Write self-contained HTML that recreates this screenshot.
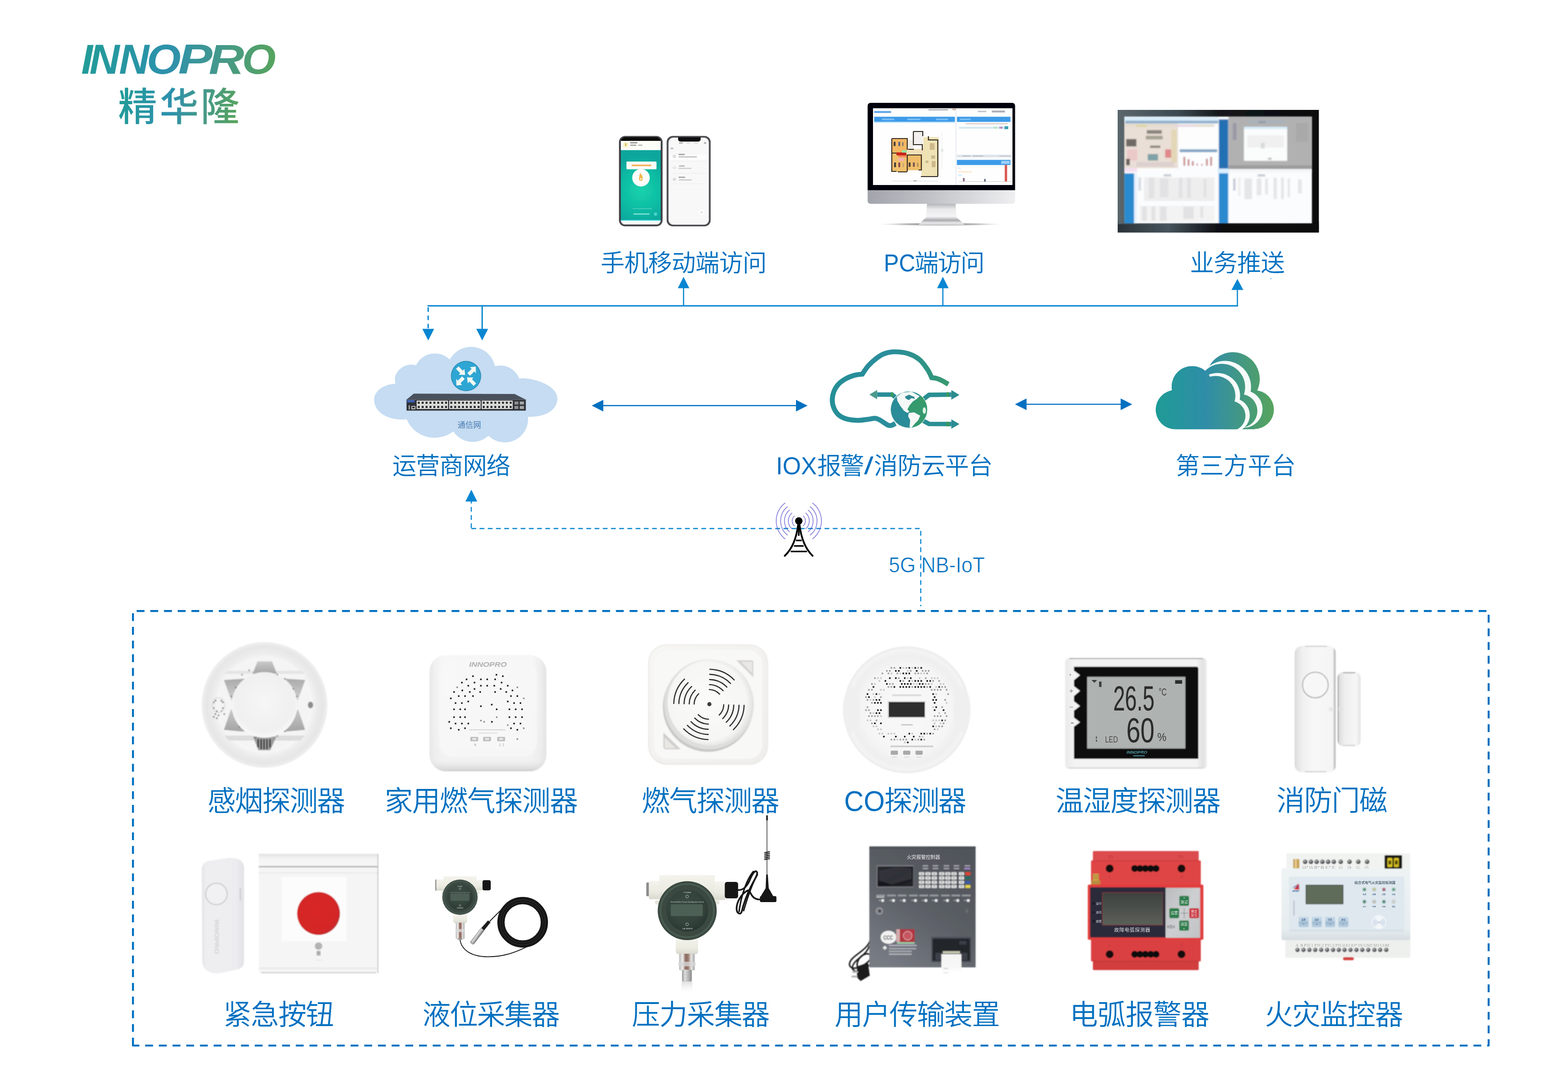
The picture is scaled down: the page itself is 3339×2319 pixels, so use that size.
<!DOCTYPE html>
<html lang="zh-CN">
<head>
<meta charset="utf-8">
<title>INNOPRO 精华隆 - IOX报警/消防云平台</title>
<style>
html,body{margin:0;padding:0;background:#fff;}
body{width:3339px;height:2319px;overflow:hidden;position:relative;}
svg{position:absolute;left:0;top:0;display:block;}
text{font-family:"Liberation Sans","Noto Sans CJK SC",sans-serif;}
.lb{fill:#0070c0;font-weight:350;}
</style>
</head>
<body>
<svg width="3339" height="2319" viewBox="0 0 3339 2319">
<!-- 05_logo.svg -->
<defs>
  <linearGradient id="lg1" gradientUnits="userSpaceOnUse" x1="175" y1="100" x2="586" y2="150">
    <stop offset="0" stop-color="#229c97"/>
    <stop offset="0.45" stop-color="#2d91ad"/>
    <stop offset="0.72" stop-color="#45998a"/>
    <stop offset="1" stop-color="#57a45c"/>
  </linearGradient>
  <linearGradient id="lg2" gradientUnits="userSpaceOnUse" x1="254" y1="200" x2="507" y2="250">
    <stop offset="0" stop-color="#229c97"/>
    <stop offset="0.42" stop-color="#2d91ad"/>
    <stop offset="0.7" stop-color="#45998a"/>
    <stop offset="1" stop-color="#57a45c"/>
  </linearGradient>
</defs>
<g id="logo">
  <text y="156.5" font-size="89" font-weight="700" font-style="italic" fill="url(#lg1)"><tspan x="173 190.5 253.5">INN</tspan><tspan x="312.6" textLength="72.7" lengthAdjust="spacingAndGlyphs">O</tspan><tspan x="379.6" textLength="72.8" lengthAdjust="spacingAndGlyphs">P</tspan><tspan x="444.4" textLength="75.5" lengthAdjust="spacingAndGlyphs">R</tspan><tspan x="515.6" textLength="72" lengthAdjust="spacingAndGlyphs">O</tspan></text>
  <text x="251.5 340 427" y="257" font-size="83" font-weight="500" fill="url(#lg2)">精华隆</text>
</g>

<!-- 10_lines.svg -->
<g id="lines" fill="none" stroke="#0886d1" stroke-width="2.9">
  <path d="M910.4,651.3 H2636.3"/>
  <path d="M911.8,654.4 V700.5" stroke-dasharray="9.6 7.9"/>
  <path d="M1026.8,652 V701"/>
  <path d="M1455.6,651 V612" stroke-width="2.5"/>
  <path d="M2007.8,651 V612" stroke-width="2.5"/>
  <path d="M2635,652 V616" stroke-width="2.5"/>
</g>
<g id="heads" fill="#0886d1">
  <path d="M899.3,700.2 h25.2 l-12.6,24.9z"/>
  <path d="M1014.2,700.2 h25.2 l-12.6,24.9z"/>
  <path d="M1443.3,613.7 h24.6 l-12.3,-24.2z"/>
  <path d="M1995.5,613.7 h24.6 l-12.3,-24.2z"/>
  <path d="M2622.4,617.4 h25.2 l-12.6,-23.5z"/>
</g>
<g id="box" fill="none" stroke="#0070c0" stroke-width="4.2" stroke-linejoin="round">
  <path d="M283.15,2226.5 V1301.2 H3170 V2226.5 Z" stroke-dasharray="16.7 12.46"/>
</g>

<!-- 15_mid.svg -->
<g id="midarrows">
  <g stroke="#0070c0" stroke-width="2.4" fill="none">
    <path d="M1282,863.8 H1698"/>
    <path d="M2184,860.9 H2389"/>
  </g>
  <g fill="#0070c0">
    <path d="M1260.1,863.8 l24.6,-12.4 v24.8z"/>
    <path d="M1719.6,863.8 l-24.6,-12.4 v24.8z"/>
    <path d="M2161.4,860.9 l24.6,-12.4 v24.8z"/>
    <path d="M2411,860.9 l-24.6,-12.4 v24.8z"/>
  </g>
  <path d="M1003.8,1125.5 H1960.7 V1291" fill="none" stroke="#0886d1" stroke-width="2.4" stroke-dasharray="10.1 7.39"/>
  <path d="M1003.6,1124.6 V1066" fill="none" stroke="#0886d1" stroke-width="2.4" stroke-dasharray="10.1 7.39"/>
  <circle cx="2706.4" cy="593.4" r="1" fill="#0886d1"/>
  <path d="M1003.7,1042.7 l12.6,25.2 h-25.2z" fill="#0886d1"/>
</g>
<g id="tower">
  <path d="M1710.1,1098.5 A14.1,14.1 0 0 1 1710.1,1120.1 M1692.0,1098.5 A14.1,14.1 0 0 0 1692.0,1120.1 M1715.4,1092.2 A22.3,22.3 0 0 1 1715.4,1126.4 M1686.7,1092.2 A22.3,22.3 0 0 0 1686.7,1126.4 M1720.7,1085.9 A30.5,30.5 0 0 1 1720.7,1132.7 M1681.4,1085.9 A30.5,30.5 0 0 0 1681.4,1132.7 M1724.9,1078.8 A38.8,38.8 0 0 1 1724.9,1139.9 M1677.2,1078.8 A38.8,38.8 0 0 0 1677.2,1139.9 M1730.0,1070.8 A48.2,48.2 0 0 1 1730.0,1147.8 M1672.1,1070.8 A48.2,48.2 0 0 0 1672.1,1147.8" fill="none" stroke="#5b4fd0" stroke-width="1.5" opacity="0.8"/>
  <circle cx="1701.0" cy="1109.3" r="7.9" fill="#000"/>
  <path d="M1701.0,1109.3 V1141.0" stroke="#000" stroke-width="3.4" fill="none"/>
  <path d="M1699.6,1117.5 Q1694.0,1162.2 1671.4,1183.3 M1702.5,1117.5 Q1708.1,1162.2 1730.2,1183.3" stroke="#000" stroke-width="3.8" fill="none" stroke-linecap="square"/>
  <path d="M1694.9,1150.9 H1707.2 M1690.7,1162.7 H1711.4 M1683.7,1174.4 H1718.4" stroke="#000" stroke-width="3.3" fill="none"/>
</g>

<!-- 20_text.svg -->
<g id="labels" class="lb">
  <text x="1279.1" y="578.1" font-size="51.3" letter-spacing="-0.88">手机移动端访问</text>
  <text y="578.1" font-size="51.3"><tspan x="1882.1" letter-spacing="0" textLength="66.9" lengthAdjust="spacingAndGlyphs">PC</tspan><tspan x="1947.5" letter-spacing="-2.31">端访问</tspan></text>
  <text x="2533.9" y="577.9" font-size="51.3" letter-spacing="-1.04">业务推送</text>
  <text x="835.4" y="1009.6" font-size="51.3" letter-spacing="-1.21">运营商网络</text>
  <text y="1009.6" font-size="51.3"><tspan x="1652.6" letter-spacing="0" textLength="86.7" lengthAdjust="spacingAndGlyphs">IOX</tspan><tspan x="1740.2" letter-spacing="-2.31">报警</tspan><tspan x="1839.9" letter-spacing="0" textLength="19.9" lengthAdjust="spacingAndGlyphs">/</tspan><tspan x="1860.8" letter-spacing="-0.81">消防云平台</tspan></text>
  <text x="2503.5" y="1009.6" font-size="51.3" letter-spacing="-0.16">第三方平台</text>
  <text x="442.0" y="1726.8" font-size="60.2" letter-spacing="-1.91">感烟探测器</text>
  <text x="819.0" y="1726.8" font-size="60.2" letter-spacing="-1.58">家用燃气探测器</text>
  <text x="1366.5" y="1727.2" font-size="60.2" letter-spacing="-1.86">燃气探测器</text>
  <text y="1726.8" font-size="60.2"><tspan x="1797.5" letter-spacing="0" textLength="86.7" lengthAdjust="spacingAndGlyphs">CO</tspan><tspan x="1883.1" letter-spacing="-2.71">探测器</tspan></text>
  <text x="2247.7" y="1726.8" font-size="60.2" letter-spacing="-1.83">温湿度探测器</text>
  <text x="2718.3" y="1726.2" font-size="60.2" letter-spacing="-1.44">消防门磁</text>
  <text x="475.5" y="2182.2" font-size="60.2" letter-spacing="-1.58">紧急按钮</text>
  <text x="899.5" y="2182.2" font-size="60.2" letter-spacing="-2.01">液位采集器</text>
  <text x="1345.6" y="2182.2" font-size="60.2" letter-spacing="-1.76">压力采集器</text>
  <text x="1777.2" y="2181.7" font-size="60.2" letter-spacing="-1.75">用户传输装置</text>
  <text x="2277.8" y="2182.2" font-size="60.2" letter-spacing="-0.76">电弧报警器</text>
  <text x="2693.2" y="2182.2" font-size="60.2" letter-spacing="-1.51">火灾监控器</text>
  <text x="1892.6" y="1218.8" font-size="45.5" textLength="204.6" lengthAdjust="spacingAndGlyphs" stroke="#fff" stroke-width="0.7">5G NB-IoT</text>
</g>

<!-- 30_phones.svg -->
<defs>
  <radialGradient id="phg" gradientUnits="userSpaceOnUse" cx="1365" cy="405" r="75">
    <stop offset="0" stop-color="#16d2ac"/>
    <stop offset="0.5" stop-color="#0fbfa4"/>
    <stop offset="1" stop-color="#10a69d"/>
  </radialGradient>
  <filter id="b1" x="-10%" y="-10%" width="120%" height="120%"><feGaussianBlur stdDeviation="0.9"/></filter>
  <filter id="b2" x="-10%" y="-10%" width="120%" height="120%"><feGaussianBlur stdDeviation="1.6"/></filter>
  <filter id="b05" x="-10%" y="-10%" width="120%" height="120%"><feGaussianBlur stdDeviation="0.5"/></filter>
</defs>
<g id="phones" filter="url(#b05)">
  <!-- phone 1 -->
  <rect x="1318" y="289.5" width="93" height="192.5" rx="13" fill="#4b4b50"/>
  <rect x="1321.5" y="292" width="86" height="187" rx="10" fill="#0d0d10"/>
  <path d="M1322,300 h85 v20 h-85z" fill="#fdfdf8"/>
  <rect x="1322" y="319.7" width="85" height="149" fill="url(#phg)"/>
  <path d="M1322,468.2 h85 v2 a9,9 0 0 1 -9,8 h-67 a9,9 0 0 1 -9,-8z" fill="#f4fbfb"/>
  <rect x="1322" y="468" width="85" height="2" fill="#3fd3d6"/>
  <rect x="1334" y="344" width="64" height="16.5" rx="1.5" fill="#fbfbf6"/>
  <rect x="1345" y="350.5" width="42" height="3.4" fill="#f6b25a"/>
  <circle cx="1365" cy="378.5" r="18.7" fill="#fbfdfb"/>
  <path d="M1363,368 c4,5 7,9 5,15 c-1,3 -6,3 -7,0 c-1,-4 1,-8 2,-15z" fill="#f2b64a"/>
  <circle cx="1364.5" cy="381" r="2" fill="#fff6dd"/>
  <rect x="1327" y="303" width="11" height="11" rx="2" fill="#fbf3cf"/>
  <rect x="1331" y="305" width="3" height="6" fill="#d9bd4e"/>
  <rect x="1342" y="302.5" width="15" height="3" fill="#9a9a9a"/>
  <rect x="1342" y="308" width="13" height="2.4" fill="#9e9e9e"/>
  <rect x="1359" y="308" width="9" height="2.4" fill="#b5b5b5"/>
  <rect x="1347" y="443.5" width="41" height="1.6" fill="#4fd0c0"/>
  <rect x="1349" y="454.5" width="34" height="2.6" fill="#7fe3da"/>
  <circle cx="1396" cy="456" r="3.4" fill="#4ad4d0"/>
  <!-- phone 2 -->
  <rect x="1419.6" y="289.5" width="93.7" height="192.5" rx="13" fill="#4b4b50"/>
  <rect x="1423.5" y="293" width="86" height="185.5" rx="10" fill="#f8f8f8"/>
  <path d="M1444,292.5 h48 v4 a5,5 0 0 1 -5,5 h-38 a5,5 0 0 1 -5,-5z" fill="#0c0c0e"/>
  <rect x="1427" y="330" width="78" height="10" fill="#fdfdfd"/>
  <g fill="#b9b9b9">
    <rect x="1446" y="303" width="8" height="3"/>
    <rect x="1462" y="303.5" width="8" height="2" fill="#d6d6d6"/>
    <rect x="1478" y="303.5" width="8" height="2" fill="#d6d6d6"/>
    <rect x="1499" y="302.5" width="5" height="4"/>
    <rect x="1428" y="314.5" width="6" height="3"/>
    <rect x="1445" y="327.5" width="13" height="3" fill="#a5a5a5"/>
    <rect x="1445" y="333" width="39" height="2.2"/>
    <rect x="1446" y="352" width="12" height="3" fill="#bdbdbd"/>
    <rect x="1445" y="357.5" width="27" height="2.2" fill="#c8c8c8"/>
    <rect x="1445" y="376" width="14" height="3" fill="#b0b0b0"/>
    <rect x="1446" y="382" width="27" height="2.2" fill="#c4c4c4"/>
  </g>
  <g fill="#dedede">
    <circle cx="1436" cy="333" r="3.6"/>
    <circle cx="1436" cy="357" r="3.6" fill="#e8e8e8"/>
    <circle cx="1436" cy="382" r="3.6"/>
  </g>
  <g stroke="#ececec" stroke-width="1">
    <path d="M1427,343.5 h78 M1431,369.3 h74 M1427,391.5 h78"/>
  </g>
  <circle cx="1494" cy="452" r="6" fill="#fdfdfd"/>
  <rect x="1492.5" y="450.5" width="3" height="3" fill="#c9c9c9"/>
</g>

<!-- 31_monitor.svg -->
<defs>
  <linearGradient id="chin" x1="0" y1="0" x2="1" y2="0">
    <stop offset="0" stop-color="#a2a4ac"/>
    <stop offset="0.45" stop-color="#c3c4c9"/>
    <stop offset="1" stop-color="#efeff1"/>
  </linearGradient>
  <linearGradient id="neck" x1="0" y1="0" x2="0" y2="1">
    <stop offset="0" stop-color="#b4b5b9"/>
    <stop offset="0.25" stop-color="#e9e9eb"/>
    <stop offset="0.6" stop-color="#f4f4f5"/>
    <stop offset="0.78" stop-color="#a9aaad"/>
    <stop offset="0.9" stop-color="#e6e6e8"/>
    <stop offset="1" stop-color="#d0d0d3"/>
  </linearGradient>
  <radialGradient id="msh" cx="0.5" cy="0.5" r="0.5">
    <stop offset="0" stop-color="#77787c"/>
    <stop offset="0.6" stop-color="#a5a6aa" stop-opacity="0.8"/>
    <stop offset="1" stop-color="#d0d0d0" stop-opacity="0"/>
  </radialGradient>
</defs>
<g id="monitor" filter="url(#b05)">
  <ellipse cx="2003" cy="477.5" rx="132" ry="3.6" fill="url(#msh)"/>
  <path d="M1974,434 h61 l2,29 l16,14 v2 h-96 v-2 l15,-14z" fill="url(#neck)"/>
  <path d="M1847.6,404 h314 v24 a6,6 0 0 1 -6,6 h-302 a6,6 0 0 1 -6,-6z" fill="url(#chin)"/>
  <path d="M1853.6,219 h302 a6,6 0 0 1 6,6 v180 h-314 v-180 a6,6 0 0 1 6,-6z" fill="#050507"/>
  <rect x="1859" y="230.5" width="297" height="163.5" fill="#fefefe"/>
  <!-- screen ui -->
  <rect x="1861.5" y="236.5" width="36" height="4" fill="#5aa4e6"/>
  <rect x="1977" y="232.5" width="42" height="2.6" fill="#a9acb3"/>
  <rect x="2028" y="231.5" width="8" height="3" fill="#c9a9a0"/>
  <rect x="2082" y="236" width="18" height="3" fill="#c2c5cb"/>
  <rect x="2112" y="235.5" width="28" height="4" fill="#a9adb5"/>
  <rect x="1861.5" y="248.6" width="172" height="11" fill="#3c9be9"/>
  <rect x="2037.7" y="248.6" width="114" height="11" fill="#3c9be9"/>
  <rect x="1861.5" y="259.6" width="172" height="2" fill="#bfe6fb"/>
  <g fill="#7cc0f4">
    <rect x="1878" y="252.5" width="26" height="3.4"/>
    <rect x="1932" y="252.5" width="28" height="3.4"/>
    <rect x="1993" y="252.5" width="26" height="3.4"/>
    <rect x="2044" y="252.5" width="23" height="3.4"/>
    <rect x="2044" y="344" width="12" height="3.4"/>
  </g>
  <rect x="2034.5" y="236" width="2.4" height="158" fill="#eceef2"/>
  <rect x="2056" y="262" width="90" height="3" fill="#dfd5cf"/>
  <rect x="2042" y="270" width="98" height="4" fill="#d5e8f4"/>
  <rect x="2139" y="268.7" width="8" height="6.4" fill="#3ea3b4"/>
  <rect x="2128" y="269.5" width="7" height="4.6" fill="#b795c4"/>
  <rect x="2116" y="269.5" width="8" height="4.6" fill="#bfe6cf"/>
  <rect x="2037.7" y="329.5" width="116" height="5.6" fill="#dfe4ea"/>
  <rect x="2050" y="331" width="16" height="2.4" fill="#bcc3cc"/>
  <rect x="2072" y="331" width="22" height="2.4" fill="#bcc3cc"/>
  <rect x="2128" y="331" width="24" height="2.4" fill="#c9ced6"/>
  <rect x="2037.7" y="340.4" width="114" height="11" fill="#3c9be9"/>
  <rect x="2132" y="342.5" width="18" height="6.4" fill="#9fd0f6"/>
  <rect x="2139.6" y="351.3" width="5" height="36" fill="#d9544f"/>
  <rect x="2040" y="356" width="6" height="4" fill="#e9eef6"/>
  <rect x="2040" y="364" width="30" height="4" fill="#fdeedd"/>
  <rect x="2040" y="371" width="8" height="4" fill="#d9f1fb"/>
  <path d="M2042,386.5 h112" stroke="#c8ccd2" stroke-width="1.2"/>
  <rect x="2050.5" y="379" width="3.6" height="7" fill="#8a6a86"/>
  <rect x="2096" y="381" width="2.6" height="6" fill="#4a5260"/>
  <path d="M1898,385.5 h100" stroke="#d9dbde" stroke-width="1.2"/>
  <rect x="1945" y="383.5" width="7" height="3" fill="#b9bcc2"/>
  <path d="M2006,280 v80" stroke="#ebebee" stroke-width="1.2"/>
  <rect x="2004.5" y="317" width="4" height="7" fill="#e2e2e6"/>
  <!-- floor plan -->
  <g>
    <path d="M1966,292 h33 v83 h-37 v-12 h-30 v-46 h34z" fill="#efe2b4"/>
    <rect x="1900" y="296" width="31" height="29" fill="#f1b763"/>
    <rect x="1900" y="327" width="31" height="39" fill="#efc06c"/>
    <rect x="1933" y="331" width="28" height="31" fill="#efbd69"/>
    <rect x="1932" y="298" width="14" height="20" fill="#f0ede8"/>
    <rect x="1946" y="281" width="19" height="26" fill="#f1f0ee"/>
    <rect x="1931" y="318" width="36" height="12" fill="#f1dfb8"/>
    <path d="M1899,295 h33 v24 M1899,295 v70 h10 M1899,326 h12 M1931,330 h31 v32 h-6 M1932,331 v34 M1912,366 h20" fill="none" stroke="#3a2f20" stroke-width="2.2"/>
    <path d="M1945,280 h20 v10 M1945,280 v28 h19 v12 M1977,290 v8 h20 v78 M1961,376 h36 M1934,318 h12" fill="none" stroke="#2e2a24" stroke-width="2.2"/>
    <rect x="1909" y="324.5" width="21" height="6.4" fill="#c8201c"/>
    <rect x="1921" y="320" width="10" height="5" fill="#90e6a8"/>
    <rect x="1913" y="331" width="18" height="4" fill="#f08a5a"/>
    <rect x="1913" y="336.5" width="12" height="6" fill="#f4b0b8"/>
    <g fill="#4a3f3a">
      <rect x="1903" y="302" width="4" height="9"/><rect x="1913" y="302" width="4" height="9" fill="#5b6680"/><rect x="1921" y="303" width="3" height="8" fill="#8a7f6f"/>
      <rect x="1904" y="346" width="4" height="10"/><rect x="1913" y="346" width="4" height="10" fill="#8a4a52"/><rect x="1922" y="347" width="3" height="9" fill="#c9a87a"/>
      <rect x="1935" y="346" width="4" height="9"/><rect x="1944" y="346" width="4" height="9" fill="#7a5a52"/><rect x="1953" y="347" width="3" height="8" fill="#b0905a"/>
    </g>
    <g fill="#cdb98a">
      <rect x="1980" y="305" width="10" height="14"/><rect x="1983" y="331" width="8" height="7"/><rect x="1984" y="343" width="8" height="13"/><rect x="1971" y="342" width="6" height="5"/>
    </g>
  </g>
</g>

<!-- 32_bigscreen.svg -->
<defs>
  <linearGradient id="bz" x1="0" y1="0" x2="1" y2="0">
    <stop offset="0" stop-color="#5b666d"/>
    <stop offset="0.3" stop-color="#3c4a52"/>
    <stop offset="0.5" stop-color="#15191c"/>
    <stop offset="1" stop-color="#09090b"/>
  </linearGradient>
  <linearGradient id="bzb" x1="0" y1="0" x2="1" y2="0">
    <stop offset="0" stop-color="#2a3238"/>
    <stop offset="0.25" stop-color="#46545c"/>
    <stop offset="0.5" stop-color="#0d0e12"/>
    <stop offset="1" stop-color="#0a0a0c"/>
  </linearGradient>
  <clipPath id="bsclip"><rect x="2380" y="234" width="428.5" height="261.3"/></clipPath>
</defs>
<g id="bigscreen" clip-path="url(#bsclip)">
  <rect x="2380" y="234" width="428.5" height="261.3" fill="url(#bz)"/>
  <rect x="2380" y="470" width="428.5" height="25.3" fill="url(#bzb)"/>
  <g filter="url(#b2)">
    <rect x="2393.5" y="247.5" width="401" height="229" fill="#fbfcfd"/>
    <!-- top-left map -->
    <rect x="2393.5" y="262" width="115" height="96" fill="#eadfd6"/>
    <rect x="2393.5" y="249" width="201" height="8" fill="#d9ecf9"/>
    <rect x="2396" y="257" width="198" height="6" fill="#8fb0cc"/>
    <rect x="2396" y="265" width="190" height="5" fill="#e3dccf"/>
    <rect x="2420" y="266" width="22" height="4" fill="#d8d39a"/>
    <rect x="2502" y="266" width="40" height="4" fill="#e9d5e3"/>
    <rect x="2398" y="296" width="22" height="16" fill="#6f6a66"/>
    <rect x="2442" y="277" width="32" height="8" fill="#8a857e"/>
    <rect x="2440" y="289" width="36" height="8" fill="#a6a294"/>
    <rect x="2449" y="310" width="22" height="5" fill="#8a867c"/>
    <rect x="2444" y="328" width="22" height="14" fill="#7fa2a6"/>
    <rect x="2481" y="318" width="13" height="18" fill="#e08a8c"/>
    <rect x="2400" y="318" width="22" height="24" fill="#ecc9c9"/>
    <rect x="2398" y="338" width="8" height="14" fill="#6a645f"/>
    <rect x="2494" y="276" width="12" height="70" fill="#e3d7b8"/>
    <rect x="2420" y="345" width="80" height="10" fill="#ddd0cf"/>
    <!-- top-left right panel -->
    <rect x="2510" y="272" width="82" height="42" fill="#fdfdfd"/>
    <rect x="2512" y="318" width="80" height="6" fill="#7fa4c6"/>
    <rect x="2510" y="326" width="84" height="32" fill="#fbfdff"/>
    <g fill="#c98a8a">
      <rect x="2520" y="334" width="4" height="19"/><rect x="2529" y="339" width="4" height="14"/><rect x="2538" y="343" width="4" height="10"/><rect x="2548" y="348" width="3" height="5"/><rect x="2558" y="349" width="3" height="4"/><rect x="2568" y="338" width="4" height="15"/><rect x="2577" y="334" width="4" height="19"/>
    </g>
    <!-- centre blue stripe -->
    <rect x="2595.5" y="254" width="20" height="106" fill="#2070b3"/>
    <rect x="2595.5" y="369" width="20" height="108" fill="#2a89cf"/>
    <rect x="2593" y="359" width="25" height="10" fill="#d8efff"/>
    <!-- top-right grey -->
    <rect x="2616" y="247.5" width="179" height="112" fill="#b1b1b2"/>
    <rect x="2625" y="262" width="8" height="36" fill="#9a98a6"/>
    <rect x="2660" y="256" width="76" height="6" fill="#a9b1bb"/>
    <rect x="2680" y="258" width="15" height="4" fill="#8f96a6"/>
    <rect x="2649" y="270.5" width="92" height="72" fill="#fbfcfc"/>
    <rect x="2649" y="270" width="92" height="5" fill="#d8eefa"/>
    <rect x="2656" y="288" width="78" height="26" fill="#f0f0f0"/>
    <rect x="2685" y="304" width="8" height="12" fill="#d9d9dc"/>
    <rect x="2700" y="336" width="8" height="4" fill="#bdbdbd"/>
    <rect x="2616" y="352" width="179" height="8" fill="#9c9c9e"/>
    <rect x="2760" y="262" width="26" height="40" fill="#a9a9aa"/>
    <!-- bottom-left -->
    <rect x="2393.5" y="369" width="22" height="108" fill="#2a8ad0"/>
    <rect x="2415" y="369" width="6" height="108" fill="#e4f3fd"/>
    <rect x="2393.5" y="358" width="28" height="8" fill="#f4dff0"/>
    <rect x="2424" y="378" width="6" height="28" fill="#d9dde6"/>
    <rect x="2478" y="371" width="16" height="5" fill="#c9cdd6"/>
    <g fill="#eeeeef">
      <rect x="2436" y="378" width="150" height="50"/>
      <rect x="2426" y="438" width="160" height="34" fill="#f3f3f3"/>
    </g>
    <g fill="#e2e2e4">
      <rect x="2446" y="378" width="12" height="44"/><rect x="2470" y="380" width="18" height="40"/><rect x="2510" y="378" width="8" height="44"/><rect x="2528" y="378" width="8" height="44"/><rect x="2563" y="380" width="6" height="40"/>
      <rect x="2432" y="440" width="10" height="30"/><rect x="2452" y="440" width="8" height="30"/><rect x="2470" y="440" width="14" height="30"/><rect x="2520" y="440" width="22" height="26"/><rect x="2556" y="440" width="6" height="24"/>
    </g>
    <!-- bottom-right -->
    <rect x="2626" y="380" width="5" height="26" fill="#c6cbd8"/>
    <rect x="2678" y="371" width="16" height="5" fill="#c9cdd6"/>
    <g fill="#e6e6e8">
      <rect x="2650" y="380" width="16" height="44"/><rect x="2676" y="380" width="10" height="36"/><rect x="2694" y="380" width="6" height="34"/><rect x="2712" y="378" width="7" height="46"/><rect x="2728" y="378" width="6" height="46"/><rect x="2742" y="380" width="5" height="40"/><rect x="2764" y="382" width="8" height="30"/><rect x="2636" y="378" width="6" height="40" fill="#f0f0f1"/>
    </g>
    <rect x="2616" y="362" width="179" height="5" fill="#f4f5f6"/>
  </g>
  <path d="M2380,234 h428.5 v261.3 h-428.5z M2393.5,247.5 v229 h401 v-229z" fill="url(#bz)" fill-rule="evenodd" filter="url(#b1)"/>
  <rect x="2380" y="477" width="428.5" height="18.3" fill="url(#bzb)" filter="url(#b1)"/>
</g>

<!-- 40_opcloud.svg -->
<g id="opcloud">
  <path fill="#c5dcf2" d="M866.1,893.1 C826.8,895.9 796.8,879.1 796.8,851 C796.8,832.3 817.4,818.2 841.8,817.3 L840.8,804.2 A35.7,35.7 0 0 1 885.7,778 A44.9,44.9 0 0 1 957.8,765.8 A51.8,51.8 0 0 1 1054.1,779.9 A42.7,42.7 0 0 1 1105.6,806.1 C1126.2,802.3 1187,817.3 1187,849.1 C1187,873.4 1159.9,889.3 1124.3,887.5 A49.6,49.6 0 0 1 1040.1,927.7 A48.8,48.8 0 0 1 965.3,918.4 A64.4,64.4 0 0 1 866.1,893.1 Z"/>
  <g filter="url(#b05)">
  <circle cx="992.4" cy="800.8" r="32.2" fill="#2d8fb7"/>
  <circle cx="992.4" cy="800.8" r="30.4" fill="#2fa6d4"/>
  <g fill="#f3f8f2">
    <path d="M990.5,798.5 l-13.5,-0.5 l3,-3.4 l-9,-9 l5.4,-5.4 l9,9 l3.6,-3.2z"/>
    <path d="M1013,780.5 l0.5,14 l-3.6,-3.4 l-9,9 l-5.6,-5.6 l9,-9 l-3.4,-3.6z"/>
    <path d="M972,821 l-0.6,-14 l3.6,3.4 l9,-9 l5.6,5.6 l-9,9 l3.4,3.6z"/>
    <path d="M994.5,803.5 l13.5,0.5 l-3,3.4 l9,9 l-5.4,5.4 l-9,-9 l-3.6,3.2z"/>
  </g>
  <path d="M881,838.3 l215,0.8 l23.6,12 h-254z" fill="#4a515b"/>
  <rect x="865.7" y="851" width="254" height="23.4" fill="#2e3138"/>
  <rect x="865.7" y="850.4" width="254" height="1.6" fill="#5a6069"/>
  <rect x="867" y="852" width="16" height="4.8" fill="#3d62b4"/>
  <rect x="870" y="863" width="3" height="9" fill="#9a9c9f"/>
  <rect x="876" y="864.5" width="8.6" height="7" rx="1.2" fill="#d8d9d6"/>
  <rect x="877.6" y="866" width="5.4" height="3.6" fill="#2b2d33"/>
  <rect x="887.6" y="853.2" width="66.4" height="17.6" fill="#f2f2ee"/>
  <rect x="889.5" y="855.3" width="4.5" height="4.6" fill="#2b2d33"/>
  <rect x="889.5" y="864.2" width="4.5" height="4.8" fill="#2b2d33"/>
  <rect x="887.2" y="853.2" width="0.9" height="17.6" fill="#b9bab6"/>
  <rect x="897.8" y="855.3" width="4.5" height="4.6" fill="#2b2d33"/>
  <rect x="897.8" y="864.2" width="4.5" height="4.8" fill="#2b2d33"/>
  <rect x="895.5" y="853.2" width="0.9" height="17.6" fill="#b9bab6"/>
  <rect x="906.1" y="855.3" width="4.5" height="4.6" fill="#2b2d33"/>
  <rect x="906.1" y="864.2" width="4.5" height="4.8" fill="#2b2d33"/>
  <rect x="903.8" y="853.2" width="0.9" height="17.6" fill="#b9bab6"/>
  <rect x="914.4" y="855.3" width="4.5" height="4.6" fill="#2b2d33"/>
  <rect x="914.4" y="864.2" width="4.5" height="4.8" fill="#2b2d33"/>
  <rect x="912.1" y="853.2" width="0.9" height="17.6" fill="#b9bab6"/>
  <rect x="922.7" y="855.3" width="4.5" height="4.6" fill="#2b2d33"/>
  <rect x="922.7" y="864.2" width="4.5" height="4.8" fill="#2b2d33"/>
  <rect x="920.4" y="853.2" width="0.9" height="17.6" fill="#b9bab6"/>
  <rect x="931.0" y="855.3" width="4.5" height="4.6" fill="#2b2d33"/>
  <rect x="931.0" y="864.2" width="4.5" height="4.8" fill="#2b2d33"/>
  <rect x="928.7" y="853.2" width="0.9" height="17.6" fill="#b9bab6"/>
  <rect x="939.3" y="855.3" width="4.5" height="4.6" fill="#2b2d33"/>
  <rect x="939.3" y="864.2" width="4.5" height="4.8" fill="#2b2d33"/>
  <rect x="937.0" y="853.2" width="0.9" height="17.6" fill="#b9bab6"/>
  <rect x="947.6" y="855.3" width="4.5" height="4.6" fill="#2b2d33"/>
  <rect x="947.6" y="864.2" width="4.5" height="4.8" fill="#2b2d33"/>
  <rect x="945.3" y="853.2" width="0.9" height="17.6" fill="#b9bab6"/>
  <rect x="887.6" y="861.2" width="66.4" height="1.4" fill="#c8c9c4"/>
  <rect x="956.8" y="853.2" width="66.5" height="17.6" fill="#f2f2ee"/>
  <rect x="958.7" y="855.3" width="4.5" height="4.6" fill="#2b2d33"/>
  <rect x="958.7" y="864.2" width="4.5" height="4.8" fill="#2b2d33"/>
  <rect x="956.4" y="853.2" width="0.9" height="17.6" fill="#b9bab6"/>
  <rect x="967.0" y="855.3" width="4.5" height="4.6" fill="#2b2d33"/>
  <rect x="967.0" y="864.2" width="4.5" height="4.8" fill="#2b2d33"/>
  <rect x="964.7" y="853.2" width="0.9" height="17.6" fill="#b9bab6"/>
  <rect x="975.3" y="855.3" width="4.5" height="4.6" fill="#2b2d33"/>
  <rect x="975.3" y="864.2" width="4.5" height="4.8" fill="#2b2d33"/>
  <rect x="973.0" y="853.2" width="0.9" height="17.6" fill="#b9bab6"/>
  <rect x="983.6" y="855.3" width="4.5" height="4.6" fill="#2b2d33"/>
  <rect x="983.6" y="864.2" width="4.5" height="4.8" fill="#2b2d33"/>
  <rect x="981.3" y="853.2" width="0.9" height="17.6" fill="#b9bab6"/>
  <rect x="991.9" y="855.3" width="4.5" height="4.6" fill="#2b2d33"/>
  <rect x="991.9" y="864.2" width="4.5" height="4.8" fill="#2b2d33"/>
  <rect x="989.6" y="853.2" width="0.9" height="17.6" fill="#b9bab6"/>
  <rect x="1000.3" y="855.3" width="4.5" height="4.6" fill="#2b2d33"/>
  <rect x="1000.3" y="864.2" width="4.5" height="4.8" fill="#2b2d33"/>
  <rect x="998.0" y="853.2" width="0.9" height="17.6" fill="#b9bab6"/>
  <rect x="1008.6" y="855.3" width="4.5" height="4.6" fill="#2b2d33"/>
  <rect x="1008.6" y="864.2" width="4.5" height="4.8" fill="#2b2d33"/>
  <rect x="1006.3" y="853.2" width="0.9" height="17.6" fill="#b9bab6"/>
  <rect x="1016.9" y="855.3" width="4.5" height="4.6" fill="#2b2d33"/>
  <rect x="1016.9" y="864.2" width="4.5" height="4.8" fill="#2b2d33"/>
  <rect x="1014.6" y="853.2" width="0.9" height="17.6" fill="#b9bab6"/>
  <rect x="956.8" y="861.2" width="66.5" height="1.4" fill="#c8c9c4"/>
  <rect x="1026.0" y="853.2" width="65.6" height="17.6" fill="#f2f2ee"/>
  <rect x="1027.9" y="855.3" width="4.4" height="4.6" fill="#2b2d33"/>
  <rect x="1027.9" y="864.2" width="4.4" height="4.8" fill="#2b2d33"/>
  <rect x="1025.6" y="853.2" width="0.9" height="17.6" fill="#b9bab6"/>
  <rect x="1036.1" y="855.3" width="4.4" height="4.6" fill="#2b2d33"/>
  <rect x="1036.1" y="864.2" width="4.4" height="4.8" fill="#2b2d33"/>
  <rect x="1033.8" y="853.2" width="0.9" height="17.6" fill="#b9bab6"/>
  <rect x="1044.3" y="855.3" width="4.4" height="4.6" fill="#2b2d33"/>
  <rect x="1044.3" y="864.2" width="4.4" height="4.8" fill="#2b2d33"/>
  <rect x="1042.0" y="853.2" width="0.9" height="17.6" fill="#b9bab6"/>
  <rect x="1052.5" y="855.3" width="4.4" height="4.6" fill="#2b2d33"/>
  <rect x="1052.5" y="864.2" width="4.4" height="4.8" fill="#2b2d33"/>
  <rect x="1050.2" y="853.2" width="0.9" height="17.6" fill="#b9bab6"/>
  <rect x="1060.7" y="855.3" width="4.4" height="4.6" fill="#2b2d33"/>
  <rect x="1060.7" y="864.2" width="4.4" height="4.8" fill="#2b2d33"/>
  <rect x="1058.4" y="853.2" width="0.9" height="17.6" fill="#b9bab6"/>
  <rect x="1068.9" y="855.3" width="4.4" height="4.6" fill="#2b2d33"/>
  <rect x="1068.9" y="864.2" width="4.4" height="4.8" fill="#2b2d33"/>
  <rect x="1066.6" y="853.2" width="0.9" height="17.6" fill="#b9bab6"/>
  <rect x="1077.1" y="855.3" width="4.4" height="4.6" fill="#2b2d33"/>
  <rect x="1077.1" y="864.2" width="4.4" height="4.8" fill="#2b2d33"/>
  <rect x="1074.8" y="853.2" width="0.9" height="17.6" fill="#b9bab6"/>
  <rect x="1085.3" y="855.3" width="4.4" height="4.6" fill="#2b2d33"/>
  <rect x="1085.3" y="864.2" width="4.4" height="4.8" fill="#2b2d33"/>
  <rect x="1083.0" y="853.2" width="0.9" height="17.6" fill="#b9bab6"/>
  <rect x="1026.0" y="861.2" width="65.6" height="1.4" fill="#c8c9c4"/>
  <g fill="#8e9092">
    <rect x="1095.5" y="855" width="8.4" height="6.4"/><rect x="1095.5" y="864.5" width="8.4" height="6.4"/>
    <rect x="1106.8" y="855" width="9" height="6.4" fill="#a4a6a8"/><rect x="1106.8" y="864.5" width="9" height="6.4" fill="#a4a6a8"/>
  </g>
  </g>
  <text x="999.4" y="910.6" font-size="16.6" text-anchor="middle" fill="#4c80b4" font-weight="400">通信网</text>
</g>

<!-- 41_ioxcloud.svg -->
<defs>
  <linearGradient id="ioxg" gradientUnits="userSpaceOnUse" x1="1770" y1="0" x2="2045" y2="0">
    <stop offset="0" stop-color="#268f97"/>
    <stop offset="0.45" stop-color="#2b8d9c"/>
    <stop offset="0.75" stop-color="#2f9483"/>
    <stop offset="1" stop-color="#3f9c62"/>
  </linearGradient>
  <clipPath id="globeclip"><circle cx="1935.6" cy="872.2" r="38.8"/></clipPath>
</defs>
<g id="ioxcloud" filter="url(#b05)">
  <path d="M2019.3,818.3 C2017.0,817.0 2009.9,812.5 2005.7,810.4 C2001.5,808.3 1997.8,806.8 1994.2,805.8 C1990.6,804.8 1985.8,804.6 1984.1,804.4 L1984.1,804.4 C1982.7,801.6 1979.8,793.9 1975.5,787.4 C1971.2,781.0 1965.2,771.6 1958.3,765.9 C1951.3,760.2 1942.7,755.8 1933.9,753.0 C1925.0,750.2 1913.5,749.1 1905.1,749.1 C1896.8,749.1 1890.1,750.7 1883.6,753.0 C1877.1,755.3 1872.1,758.7 1866.4,763.0 C1860.6,767.3 1854.2,773.2 1849.1,778.8 C1844.1,784.4 1838.4,793.8 1836.2,796.8 L1836.2,796.8 C1833.6,797.1 1826.2,797.4 1820.4,798.9 C1814.7,800.5 1807.5,803.0 1801.7,806.1 C1796.0,809.2 1790.3,813.1 1786.0,817.6 C1781.6,822.1 1778.2,827.7 1775.9,833.4 C1773.6,839.1 1772.3,846.1 1772.3,852.1 C1772.3,858.0 1773.6,864.0 1775.9,869.3 C1778.2,874.6 1781.4,879.8 1786.0,883.7 C1790.5,887.5 1796.5,890.4 1803.2,892.3 C1809.9,894.2 1818.7,895.0 1826.2,895.1 C1833.6,895.3 1841.5,893.7 1847.7,893.0 C1853.9,892.3 1859.2,890.6 1863.5,890.8 C1867.8,891.1 1870.2,892.8 1873.6,894.4 C1876.9,896.1 1880.5,899.0 1883.6,900.9 C1886.7,902.8 1889.6,905.1 1892.2,905.9 C1894.9,906.7 1897.0,906.2 1899.4,905.5 C1901.8,904.8 1905.4,902.3 1906.6,901.6" fill="none" stroke="url(#ioxg)" stroke-width="10.4" stroke-linejoin="miter" stroke-linecap="butt"/>
  <!-- arrows -->
  <path d="M1867.8,840.3 1899.4,840.3 1910.9,849.2" fill="none" stroke="#2a8d9a" stroke-width="9.6"/>
  <polygon points="1851.3,840.3 1867.8,830.5 1867.8,850.3" fill="#4c9a8c"/>
  <path d="M1964.0,852.1 1978.4,840.9 2025.8,840.3" fill="none" stroke="#2c8f93" stroke-width="9.6" stroke-linejoin="round"/>
  <polygon points="2043.0,841.0 2025.8,830.5 2025.8,851.1" fill="#2a8c90"/>
  <path d="M1964.0,895.1 1978.4,902.8 2025.8,903.0" fill="none" stroke="#2c8f93" stroke-width="9.6" stroke-linejoin="round"/>
  <polygon points="2043.0,903.0 2025.8,893.0 2025.8,913.1" fill="#2a8c90"/>
  <rect x="2015.7" y="835.5" width="5" height="9.6" fill="#3a9a58"/>
  <rect x="2015.7" y="898.2" width="5" height="9.6" fill="#3a9a58"/>
  <rect x="1897.2" y="835.5" width="5" height="9.6" fill="#3a9a58"/>
  <!-- globe -->
  <circle cx="1935.6" cy="872.2" r="40.0" fill="#e9f7f2"/>
  <g clip-path="url(#globeclip)">
    <circle cx="1935.6" cy="872.2" r="38.8" fill="#2a8c98"/>
    <path d="M1909.5,844.9 1920.9,836.3 1941.0,834.1 1958.3,843.4 1952.5,849.2 1943.9,854.9 1936.7,863.6 1932.4,872.2 1938.2,875.0 1932.4,879.3 1925.2,875.0 1916.6,863.6 1910.9,853.5 z" fill="#f4f8f6"/>
    <path d="M1935.3,879.3 1946.8,877.9 1959.7,885.1 1955.4,895.1 1948.2,902.3 1941.0,910.9 1936.7,909.5 1938.2,895.1 1933.9,886.5 z" fill="#f6f9f6"/>
    <path d="M1932.4,872.2 1938.2,862.1 1946.8,853.5 1961.1,844.9 1975.5,859.2 1976.9,873.6 1972.6,890.8 1964.0,902.3 1952.5,909.5 1941.0,911.7 1948.2,902.3 1955.4,895.1 1959.7,885.1 1946.8,877.9 1938.2,877.9 z" fill="#359a6e"/>
    <path d="M1955.4,847.8 1964.0,842.0 1975.5,859.2 1964.0,859.2 z" fill="#3a9a68"/>
    <path d="M1926.7,844.9 1935.3,840.6 1946.8,844.9 1948.2,849.2 1941.0,847.8 1935.3,852.1 1929.6,849.2 z" fill="#2f8a92"/>
    <ellipse cx="1968.3" cy="874.3" rx="3.4" ry="7" fill="#def5e4"/>
  </g>
</g>

<!-- 42_tpcloud.svg -->
<defs>
  <linearGradient id="tpg" gradientUnits="userSpaceOnUse" x1="2461.5" y1="0" x2="2712.2" y2="0">
    <stop offset="0" stop-color="#1e9b97"/>
    <stop offset="0.2" stop-color="#27959d"/>
    <stop offset="0.42" stop-color="#2f8da8"/>
    <stop offset="0.62" stop-color="#3c9492"/>
    <stop offset="0.82" stop-color="#4a9c74"/>
    <stop offset="1" stop-color="#56a45d"/>
  </linearGradient>
  <clipPath id="tpclip"><rect x="2453.1" y="743.1" width="261.1" height="171.1"/></clipPath>
</defs>
<g id="tpcloud" clip-path="url(#tpclip)" filter="url(#b05)">
<circle cx="2502.7" cy="872.3" r="41.5" fill="url(#tpg)"/>
<circle cx="2538.6" cy="823.3" r="43.5" fill="url(#tpg)"/>
<circle cx="2625.4" cy="807.3" r="57.2" fill="url(#tpg)"/>
<circle cx="2671.7" cy="872.3" r="41.1" fill="url(#tpg)"/>
<rect x="2502.7" y="834.4" width="169.1" height="79.9" fill="url(#tpg)"/>
<circle cx="2608.4" cy="824.0" r="55.6" fill="#f7fbfa"/>
<circle cx="2648.9" cy="871.0" r="39.7" fill="#f7fbfa"/>
<circle cx="2601.9" cy="824.3" r="49.6" fill="url(#tpg)"/>
<circle cx="2641.7" cy="875.2" r="35.9" fill="url(#tpg)"/>
<circle cx="2502.7" cy="872.3" r="41.5" fill="url(#tpg)"/>
<circle cx="2538.6" cy="823.3" r="43.5" fill="url(#tpg)"/>
<rect x="2502.7" y="834.4" width="139.0" height="79.9" fill="url(#tpg)"/>
<circle cx="2592.7" cy="842.3" r="48.0" fill="#f7fbfa"/>
<circle cx="2625.4" cy="884.0" r="36.0" fill="#f7fbfa"/>
<circle cx="2588.8" cy="842.5" r="42.0" fill="url(#tpg)"/>
<circle cx="2620.2" cy="885.6" r="32.0" fill="url(#tpg)"/>
<circle cx="2502.7" cy="872.3" r="41.5" fill="url(#tpg)"/>
<circle cx="2538.6" cy="823.3" r="43.5" fill="url(#tpg)"/>
<rect x="2502.7" y="834.4" width="117.5" height="79.9" fill="url(#tpg)"/>
</g>

<!-- 50_smoke.svg -->
<defs>
  <radialGradient id="sd1" gradientUnits="userSpaceOnUse" cx="563.3" cy="1501.1" r="134">
    <stop offset="0" stop-color="#f4f4f4"/>
    <stop offset="0.62" stop-color="#ededed"/>
    <stop offset="0.74" stop-color="#f6f6f6"/>
    <stop offset="0.84" stop-color="#ebebeb"/>
    <stop offset="0.93" stop-color="#e6e6e6"/>
    <stop offset="1" stop-color="#f0f0f0"/>
  </radialGradient>
  <linearGradient id="sdw" x1="0" y1="0" x2="0" y2="1">
    <stop offset="0" stop-color="#c9c9c9"/>
    <stop offset="1" stop-color="#a4a4a4"/>
  </linearGradient>
  <linearGradient id="sdw2" x1="0" y1="1" x2="0" y2="0">
    <stop offset="0" stop-color="#d2d2d2"/>
    <stop offset="1" stop-color="#aaaaaa"/>
  </linearGradient>
  <radialGradient id="sdc" cx="0.5" cy="0.45" r="0.55">
    <stop offset="0" stop-color="#f6f6f6"/>
    <stop offset="0.8" stop-color="#f0f0f0"/>
    <stop offset="1" stop-color="#f8f8f8"/>
  </radialGradient>
</defs>
<g id="smoke" filter="url(#b1)">
<circle cx="563.3" cy="1501.1" r="134" fill="url(#sd1)"/>
<polygon points="563.3,1394.5 655.4,1447.5 655.4,1554.3 563.3,1607.3 471.2,1554.3 471.2,1447.5" fill="#f4f4f4"/>
<polygon points="477.8,1566.5 648.8,1566.5 639.4,1576.9 487.2,1576.9" fill="#dcdcdc"/>
<polygon points="477.8,1434.9 648.8,1434.9 643.2,1428.4 483.4,1428.4" fill="#e4e4e4"/>
<polygon points="548.3,1408.6 579.3,1408.6 589.6,1434.9 537.9,1434.9" fill="url(#sdw)"/>
<polygon points="476.8,1448.1 521.0,1445.3 492.8,1492.3" fill="url(#sdw2)"/>
<polygon points="649.8,1448.1 605.6,1445.3 633.8,1492.3" fill="url(#sdw2)"/>
<polygon points="476.8,1554.3 521.0,1558.1 491.9,1510.1" fill="url(#sdw)"/>
<polygon points="649.8,1554.3 605.6,1558.1 634.7,1510.1" fill="url(#sdw)"/>
<polygon points="538.9,1568.4 588.7,1568.4 575.5,1597.5 550.1,1597.5" fill="#9c9c9c"/>
<rect x="548.3" y="1574.0" width="3.0" height="17.9" fill="#2e2e2e"/>
<rect x="554.6" y="1574.0" width="3.0" height="21.6" fill="#2e2e2e"/>
<rect x="560.8" y="1574.0" width="3.0" height="21.6" fill="#2e2e2e"/>
<rect x="567.0" y="1574.0" width="3.0" height="21.6" fill="#2e2e2e"/>
<rect x="573.4" y="1574.0" width="3.0" height="17.9" fill="#2e2e2e"/>
<circle cx="563.3" cy="1501.1" r="69.9" fill="url(#sdc)"/>
<rect x="514.1" y="1435.5" width="2.6" height="2.6" fill="#555"/>
<rect x="589.2" y="1435.5" width="2.6" height="2.6" fill="#555"/>
<rect x="605.2" y="1444.0" width="2.6" height="2.6" fill="#555"/>
<rect x="630.6" y="1481.6" width="2.6" height="2.6" fill="#555"/>
<rect x="605.2" y="1556.4" width="2.6" height="2.6" fill="#555"/>
<rect x="589.2" y="1565.8" width="2.6" height="2.6" fill="#555"/>
<rect x="542.3" y="1569.0" width="2.6" height="2.6" fill="#555"/>
<rect x="508.4" y="1546.4" width="2.6" height="2.6" fill="#555"/>
<rect x="491.5" y="1481.6" width="2.6" height="2.6" fill="#555"/>
<rect x="500.9" y="1462.8" width="2.6" height="2.6" fill="#555"/>
<rect x="529.1" y="1426.1" width="2.6" height="2.6" fill="#555"/>
<rect x="623.1" y="1465.6" width="2.6" height="2.6" fill="#555"/>
<rect x="453.8" y="1494.3" width="2.8" height="2.8" fill="#3a3a3a"/>
<rect x="457.6" y="1490.5" width="2.8" height="2.8" fill="#3a3a3a"/>
<rect x="469.8" y="1490.9" width="2.8" height="2.8" fill="#3a3a3a"/>
<rect x="473.2" y="1494.3" width="2.8" height="2.8" fill="#3a3a3a"/>
<rect x="453.8" y="1506.5" width="2.8" height="2.8" fill="#3a3a3a"/>
<rect x="473.2" y="1506.5" width="2.8" height="2.8" fill="#3a3a3a"/>
<rect x="460.4" y="1513.1" width="2.8" height="2.8" fill="#3a3a3a"/>
<rect x="470.2" y="1513.1" width="2.8" height="2.8" fill="#3a3a3a"/>
<rect x="457.2" y="1519.1" width="2.8" height="2.8" fill="#3a3a3a"/>
<rect x="463.8" y="1521.9" width="2.8" height="2.8" fill="#3a3a3a"/>
<rect x="476.0" y="1519.1" width="2.8" height="2.8" fill="#3a3a3a"/>
<rect x="453.8" y="1525.1" width="2.8" height="2.8" fill="#3a3a3a"/>
<rect x="460.4" y="1528.1" width="2.8" height="2.8" fill="#3a3a3a"/>
<ellipse cx="465.5" cy="1501.7" rx="13.2" ry="16.0" fill="none" stroke="#dadada" stroke-width="2"/>
<ellipse cx="661.2" cy="1501.3" rx="5.6" ry="7.1" fill="#8d8d8d"/>
</g>

<!-- 51_hgas.svg -->
<defs>
  <linearGradient id="hg1" x1="0" y1="0" x2="1" y2="0">
    <stop offset="0" stop-color="#e6e6e6"/>
    <stop offset="0.05" stop-color="#f1f1f1"/>
    <stop offset="0.12" stop-color="#f7f7f7"/>
    <stop offset="0.88" stop-color="#f6f6f6"/>
    <stop offset="0.95" stop-color="#eeeeee"/>
    <stop offset="1" stop-color="#e0e0e0"/>
  </linearGradient>
  <linearGradient id="hg2" x1="0" y1="0" x2="0" y2="1">
    <stop offset="0" stop-color="#ffffff" stop-opacity="0"/>
    <stop offset="0.9" stop-color="#e8e8e8" stop-opacity="0.3"/>
    <stop offset="1" stop-color="#cfcfcf" stop-opacity="0.9"/>
  </linearGradient>
</defs>
<g id="hgas"><g filter="url(#b1)">
<rect x="914.5" y="1395.1" width="248.9" height="247.5" rx="35" fill="url(#hg1)"/>
<rect x="914.5" y="1395.1" width="248.9" height="247.5" rx="35" fill="url(#hg2)"/>
<rect x="934.5" y="1406.3" width="209.0" height="205.3" rx="30" fill="#f8f8f8" opacity="0.7"/>
</g>
<rect x="1055.5" y="1435.2" width="3.3" height="3.3" fill="#1a1a1a"/>
<rect x="1005.5" y="1438.3" width="3.3" height="3.3" fill="#1a1a1a"/>
<rect x="1069.1" y="1438.3" width="3.3" height="3.3" fill="#1a1a1a"/>
<rect x="991.9" y="1445.0" width="3.3" height="3.3" fill="#1a1a1a"/>
<rect x="1022.4" y="1445.0" width="3.3" height="3.3" fill="#1a1a1a"/>
<rect x="1035.8" y="1445.0" width="3.3" height="3.3" fill="#1a1a1a"/>
<rect x="1052.7" y="1445.0" width="3.3" height="3.3" fill="#1a1a1a"/>
<rect x="981.9" y="1451.9" width="3.3" height="3.3" fill="#1a1a1a"/>
<rect x="1008.8" y="1451.9" width="3.3" height="3.3" fill="#1a1a1a"/>
<rect x="1066.4" y="1451.9" width="3.3" height="3.3" fill="#1a1a1a"/>
<rect x="995.5" y="1458.6" width="3.3" height="3.3" fill="#1a1a1a"/>
<rect x="1022.4" y="1458.6" width="3.3" height="3.3" fill="#1a1a1a"/>
<rect x="1035.8" y="1458.6" width="3.3" height="3.3" fill="#1a1a1a"/>
<rect x="1050.9" y="1458.6" width="3.3" height="3.3" fill="#1a1a1a"/>
<rect x="1079.6" y="1458.6" width="3.3" height="3.3" fill="#1a1a1a"/>
<rect x="1008.8" y="1465.5" width="3.3" height="3.3" fill="#1a1a1a"/>
<rect x="1064.6" y="1465.5" width="3.3" height="3.3" fill="#1a1a1a"/>
<rect x="982.8" y="1468.6" width="3.3" height="3.3" fill="#1a1a1a"/>
<rect x="1089.6" y="1468.6" width="3.3" height="3.3" fill="#1a1a1a"/>
<rect x="965.2" y="1471.9" width="3.3" height="3.3" fill="#1a1a1a"/>
<rect x="998.8" y="1471.9" width="3.3" height="3.3" fill="#1a1a1a"/>
<rect x="1020.9" y="1471.9" width="3.3" height="3.3" fill="#1a1a1a"/>
<rect x="1052.7" y="1471.9" width="3.3" height="3.3" fill="#1a1a1a"/>
<rect x="1076.4" y="1471.9" width="3.3" height="3.3" fill="#1a1a1a"/>
<rect x="975.2" y="1480.6" width="3.3" height="3.3" fill="#1a1a1a"/>
<rect x="988.6" y="1480.6" width="3.3" height="3.3" fill="#1a1a1a"/>
<rect x="1005.5" y="1480.6" width="3.3" height="3.3" fill="#1a1a1a"/>
<rect x="1086.4" y="1480.6" width="3.3" height="3.3" fill="#1a1a1a"/>
<rect x="1100.0" y="1480.6" width="3.3" height="3.3" fill="#1a1a1a"/>
<rect x="958.3" y="1485.5" width="3.3" height="3.3" fill="#1a1a1a"/>
<rect x="995.5" y="1492.2" width="3.3" height="3.3" fill="#1a1a1a"/>
<rect x="1079.6" y="1492.2" width="3.3" height="3.3" fill="#1a1a1a"/>
<rect x="968.4" y="1495.5" width="3.3" height="3.3" fill="#1a1a1a"/>
<rect x="981.9" y="1495.5" width="3.3" height="3.3" fill="#1a1a1a"/>
<rect x="1093.1" y="1495.5" width="3.3" height="3.3" fill="#1a1a1a"/>
<rect x="1106.7" y="1495.5" width="3.3" height="3.3" fill="#1a1a1a"/>
<rect x="1045.5" y="1498.8" width="3.3" height="3.3" fill="#1a1a1a"/>
<rect x="1022.4" y="1502.2" width="3.3" height="3.3" fill="#1a1a1a"/>
<rect x="965.2" y="1508.8" width="3.3" height="3.3" fill="#1a1a1a"/>
<rect x="978.4" y="1508.8" width="3.3" height="3.3" fill="#1a1a1a"/>
<rect x="988.6" y="1508.8" width="3.3" height="3.3" fill="#1a1a1a"/>
<rect x="1056.0" y="1508.8" width="3.3" height="3.3" fill="#1a1a1a"/>
<rect x="1083.1" y="1508.8" width="3.3" height="3.3" fill="#1a1a1a"/>
<rect x="1096.5" y="1508.8" width="3.3" height="3.3" fill="#1a1a1a"/>
<rect x="1110.0" y="1508.8" width="3.3" height="3.3" fill="#1a1a1a"/>
<rect x="965.2" y="1525.5" width="3.3" height="3.3" fill="#1a1a1a"/>
<rect x="978.4" y="1525.5" width="3.3" height="3.3" fill="#1a1a1a"/>
<rect x="988.6" y="1525.5" width="3.3" height="3.3" fill="#1a1a1a"/>
<rect x="1083.1" y="1525.5" width="3.3" height="3.3" fill="#1a1a1a"/>
<rect x="1096.5" y="1525.5" width="3.3" height="3.3" fill="#1a1a1a"/>
<rect x="1110.0" y="1525.5" width="3.3" height="3.3" fill="#1a1a1a"/>
<rect x="955.0" y="1535.5" width="3.3" height="3.3" fill="#1a1a1a"/>
<rect x="1045.8" y="1535.5" width="3.3" height="3.3" fill="#1a1a1a"/>
<rect x="968.4" y="1539.1" width="3.3" height="3.3" fill="#1a1a1a"/>
<rect x="981.9" y="1539.1" width="3.3" height="3.3" fill="#1a1a1a"/>
<rect x="995.5" y="1539.1" width="3.3" height="3.3" fill="#1a1a1a"/>
<rect x="1093.1" y="1539.1" width="3.3" height="3.3" fill="#1a1a1a"/>
<rect x="1106.7" y="1539.1" width="3.3" height="3.3" fill="#1a1a1a"/>
<rect x="958.3" y="1549.1" width="3.3" height="3.3" fill="#1a1a1a"/>
<rect x="988.6" y="1549.1" width="3.3" height="3.3" fill="#1a1a1a"/>
<rect x="1086.4" y="1549.1" width="3.3" height="3.3" fill="#1a1a1a"/>
<rect x="975.2" y="1552.4" width="3.3" height="3.3" fill="#1a1a1a"/>
<rect x="1100.0" y="1552.4" width="3.3" height="3.3" fill="#1a1a1a"/>
<rect x="972.0" y="1462.0" width="3.2" height="3.2" fill="#8a8a8a"/>
<rect x="1100.1" y="1462.0" width="3.2" height="3.2" fill="#8a8a8a"/>
<rect x="1113.7" y="1485.6" width="3.2" height="3.2" fill="#8a8a8a"/>
<rect x="1056.1" y="1525.6" width="3.2" height="3.2" fill="#8a8a8a"/>
<rect x="1079.7" y="1542.5" width="3.2" height="3.2" fill="#8a8a8a"/>
<rect x="1113.7" y="1549.2" width="3.2" height="3.2" fill="#8a8a8a"/>
<rect x="1022.5" y="1532.9" width="3.2" height="3.2" fill="#8a8a8a"/>
<rect x="1029.2" y="1535.6" width="3.2" height="3.2" fill="#8a8a8a"/>
<rect x="1100.1" y="1572.3" width="3.2" height="3.2" fill="#8a8a8a"/>
<rect x="1001.6" y="1569.3" width="16.7" height="9.1" rx="1.5" fill="#bdbdbd"/>
<rect x="1005.7" y="1571.7" width="8.4" height="4.0" fill="#e9e9e9"/>
<rect x="1028.8" y="1569.3" width="16.7" height="9.1" rx="1.5" fill="#bdbdbd"/>
<rect x="1033.0" y="1571.7" width="8.4" height="4.0" fill="#e9e9e9"/>
<rect x="1058.8" y="1569.3" width="16.7" height="9.1" rx="1.5" fill="#bdbdbd"/>
<rect x="1063.0" y="1571.7" width="8.4" height="4.0" fill="#e9e9e9"/>
<rect x="999.0" y="1553.2" width="77.2" height="2" fill="#d6d6d6"/>
<rect x="1019.0" y="1559.9" width="40.0" height="2" fill="#dddddd"/>
<rect x="1009.9" y="1583.5" width="4" height="5" fill="#d0d0d0"/>
<rect x="1063.5" y="1582.6" width="2" height="7" fill="#d0d0d0"/>
<rect x="1070.8" y="1582.6" width="2" height="7" fill="#d0d0d0"/>
<text x="1039.0" y="1420.2" font-size="14.5" font-style="italic" font-weight="700" fill="#b4b4b4" text-anchor="middle" textLength="80.0" lengthAdjust="spacingAndGlyphs">INNOPRO</text>
<rect x="952.7" y="1638.6" width="181.7" height="2.5" fill="#d2d2d2"/>
</g>

<!-- 52_gasd.svg -->
<defs>
  <linearGradient id="gd1" x1="0" y1="0" x2="1" y2="1">
    <stop offset="0" stop-color="#f7f6f4"/>
    <stop offset="1" stop-color="#efeeec"/>
  </linearGradient>
  <radialGradient id="gd2" gradientUnits="userSpaceOnUse" cx="1505.6" cy="1494.0" r="97">
    <stop offset="0" stop-color="#fbfbfa"/>
    <stop offset="0.86" stop-color="#f6f6f5"/>
    <stop offset="0.93" stop-color="#ededec"/>
    <stop offset="1" stop-color="#e3e3e2"/>
  </radialGradient>
</defs>
<g id="gasd"><g filter="url(#b1)">
<rect x="1380.2" y="1372.3" width="255.3" height="256.1" rx="39" fill="#e9e8e6"/>
<rect x="1382.2" y="1374.3" width="251.3" height="251.1" rx="37" fill="url(#gd1)"/>
<rect x="1392.2" y="1384.3" width="231.3" height="232.1" rx="30" fill="#f8f8f6"/>
<path d="M1567.9,1406.0 L1601.2,1406.0 L1604.2,1409.1 L1604.2,1442.1 z" fill="#d3d2cf"/>
<path d="M1577.5,1409.1 L1600.4,1409.1 L1601.8,1410.9 L1601.8,1433.7 z" fill="#e9e8e4"/>
<path d="M1412.6,1560.0 L1412.6,1592.5 L1415.8,1595.4 L1449.5,1595.4 z" fill="#cfcecb"/>
<path d="M1415.3,1570.5 L1415.3,1591.6 L1416.5,1593.0 L1438.9,1593.0 z" fill="#e9e8e4"/>
<circle cx="1507.6" cy="1505.0" r="96.1" fill="#c9c9c8"/>
<circle cx="1509.6" cy="1500.0" r="95.6" fill="#dededd"/>
<circle cx="1512.6" cy="1496.0" r="91.2" fill="url(#gd2)"/>
</g>
<path d="M1510.5,1468.4 A31.6,31.6 0 0 1 1532.4,1478.1 M1510.8,1457.9 A42.1,42.1 0 0 1 1539.9,1470.8 M1511.0,1447.0 A53.0,53.0 0 0 1 1547.8,1463.2 M1511.3,1436.0 A64.0,64.0 0 0 1 1555.7,1455.5 M1511.6,1425.1 A74.9,74.9 0 0 1 1563.5,1448.0 M1541.2,1500.8 A31.6,31.6 0 0 1 1531.6,1522.7 M1551.7,1501.1 A42.1,42.1 0 0 1 1538.9,1530.3 M1562.6,1501.4 A53.0,53.0 0 0 1 1546.5,1538.1 M1573.7,1501.7 A64.0,64.0 0 0 1 1554.1,1546.1 M1584.5,1502.0 A74.9,74.9 0 0 1 1561.7,1553.9 M1508.8,1531.6 A31.6,31.6 0 0 1 1486.9,1521.9 M1508.5,1542.1 A42.1,42.1 0 0 1 1479.4,1529.2 M1508.3,1553.0 A53.0,53.0 0 0 1 1471.5,1536.8 M1508.0,1564.0 A64.0,64.0 0 0 1 1463.6,1544.5 M1507.7,1574.9 A74.9,74.9 0 0 1 1455.8,1552.0 M1478.1,1499.2 A31.6,31.6 0 0 1 1487.7,1477.3 M1467.6,1498.9 A42.1,42.1 0 0 1 1480.4,1469.7 M1456.7,1498.6 A53.0,53.0 0 0 1 1472.8,1461.9 M1445.6,1498.3 A64.0,64.0 0 0 1 1465.2,1453.9 M1434.8,1498.0 A74.9,74.9 0 0 1 1457.6,1446.1" fill="none" stroke="#2b2a29" stroke-width="2.4" stroke-linecap="round" filter="url(#b05)"/>
<circle cx="1510.6" cy="1499.5" r="4.4" fill="#3a3a3a" filter="url(#b05)"/>
</g>

<!-- 53_cod.svg -->
<defs>
  <radialGradient id="co1" gradientUnits="userSpaceOnUse" cx="1930.8" cy="1511.6" r="135">
    <stop offset="0" stop-color="#f9f9f9"/>
    <stop offset="0.7" stop-color="#f5f5f5"/>
    <stop offset="0.86" stop-color="#efefef"/>
    <stop offset="0.95" stop-color="#f4f4f4"/>
    <stop offset="1" stop-color="#eaeaea"/>
  </radialGradient>
</defs>
<g id="cod"><g filter="url(#b1)">
<circle cx="1930.8" cy="1511.6" r="135" fill="url(#co1)"/>
<ellipse cx="1812.8" cy="1511.6" rx="18" ry="48" fill="#efefef"/>
<ellipse cx="2048.8" cy="1511.6" rx="18" ry="48" fill="#efefef"/>
</g>
<rect x="1896.5" y="1420.6" width="3.3" height="3.3" fill="#9a9a9a"/>
<rect x="1902.9" y="1420.6" width="3.3" height="3.3" fill="#9a9a9a"/>
<rect x="1915.6" y="1420.6" width="3.3" height="3.3" fill="#111"/>
<rect x="1921.9" y="1420.6" width="3.3" height="3.3" fill="#c4c4c4"/>
<rect x="1928.3" y="1420.6" width="3.3" height="3.3" fill="#9a9a9a"/>
<rect x="1934.7" y="1420.6" width="3.3" height="3.3" fill="#111"/>
<rect x="1941.0" y="1420.6" width="3.3" height="3.3" fill="#c4c4c4"/>
<rect x="1947.4" y="1420.6" width="3.3" height="3.3" fill="#111"/>
<rect x="1953.7" y="1420.6" width="3.3" height="3.3" fill="#9a9a9a"/>
<rect x="1960.1" y="1420.6" width="3.3" height="3.3" fill="#111"/>
<rect x="1886.9" y="1427.0" width="3.3" height="3.3" fill="#9a9a9a"/>
<rect x="1893.2" y="1427.0" width="3.3" height="3.3" fill="#9a9a9a"/>
<rect x="1906.0" y="1427.0" width="3.3" height="3.3" fill="#111"/>
<rect x="1912.3" y="1427.0" width="3.3" height="3.3" fill="#111"/>
<rect x="1931.4" y="1427.0" width="3.3" height="3.3" fill="#c4c4c4"/>
<rect x="1937.8" y="1427.0" width="3.3" height="3.3" fill="#9a9a9a"/>
<rect x="1950.5" y="1427.0" width="3.3" height="3.3" fill="#111"/>
<rect x="1963.2" y="1427.0" width="3.3" height="3.3" fill="#9a9a9a"/>
<rect x="1969.6" y="1427.0" width="3.3" height="3.3" fill="#9a9a9a"/>
<rect x="1975.9" y="1427.0" width="3.3" height="3.3" fill="#9a9a9a"/>
<rect x="1877.4" y="1432.4" width="3.3" height="3.3" fill="#9a9a9a"/>
<rect x="1890.2" y="1432.4" width="3.3" height="3.3" fill="#9a9a9a"/>
<rect x="1896.5" y="1432.4" width="3.3" height="3.3" fill="#c4c4c4"/>
<rect x="1909.2" y="1432.4" width="3.3" height="3.3" fill="#9a9a9a"/>
<rect x="1915.6" y="1432.4" width="3.3" height="3.3" fill="#c4c4c4"/>
<rect x="1921.9" y="1432.4" width="3.3" height="3.3" fill="#111"/>
<rect x="1928.3" y="1432.4" width="3.3" height="3.3" fill="#111"/>
<rect x="1934.7" y="1432.4" width="3.3" height="3.3" fill="#111"/>
<rect x="1947.4" y="1432.4" width="3.3" height="3.3" fill="#9a9a9a"/>
<rect x="1953.7" y="1432.4" width="3.3" height="3.3" fill="#9a9a9a"/>
<rect x="1960.1" y="1432.4" width="3.3" height="3.3" fill="#c4c4c4"/>
<rect x="1966.5" y="1432.4" width="3.3" height="3.3" fill="#c4c4c4"/>
<rect x="1972.8" y="1432.4" width="3.3" height="3.3" fill="#9a9a9a"/>
<rect x="1861.4" y="1442.4" width="3.3" height="3.3" fill="#9a9a9a"/>
<rect x="1867.8" y="1442.4" width="3.3" height="3.3" fill="#c4c4c4"/>
<rect x="1874.2" y="1442.4" width="3.3" height="3.3" fill="#c4c4c4"/>
<rect x="1893.2" y="1442.4" width="3.3" height="3.3" fill="#111"/>
<rect x="1906.0" y="1442.4" width="3.3" height="3.3" fill="#111"/>
<rect x="1912.3" y="1442.4" width="3.3" height="3.3" fill="#9a9a9a"/>
<rect x="1925.0" y="1442.4" width="3.3" height="3.3" fill="#111"/>
<rect x="1931.4" y="1442.4" width="3.3" height="3.3" fill="#c4c4c4"/>
<rect x="1937.8" y="1442.4" width="3.3" height="3.3" fill="#111"/>
<rect x="1956.8" y="1442.4" width="3.3" height="3.3" fill="#c4c4c4"/>
<rect x="1969.6" y="1442.4" width="3.3" height="3.3" fill="#9a9a9a"/>
<rect x="1982.3" y="1442.4" width="3.3" height="3.3" fill="#c4c4c4"/>
<rect x="1988.6" y="1442.4" width="3.3" height="3.3" fill="#c4c4c4"/>
<rect x="1995.0" y="1442.4" width="3.3" height="3.3" fill="#c4c4c4"/>
<rect x="1871.1" y="1448.4" width="3.3" height="3.3" fill="#c4c4c4"/>
<rect x="1883.8" y="1448.4" width="3.3" height="3.3" fill="#111"/>
<rect x="1915.6" y="1448.4" width="3.3" height="3.3" fill="#111"/>
<rect x="1921.9" y="1448.4" width="3.3" height="3.3" fill="#9a9a9a"/>
<rect x="1934.7" y="1448.4" width="3.3" height="3.3" fill="#111"/>
<rect x="1941.0" y="1448.4" width="3.3" height="3.3" fill="#c4c4c4"/>
<rect x="1947.4" y="1448.4" width="3.3" height="3.3" fill="#111"/>
<rect x="1953.7" y="1448.4" width="3.3" height="3.3" fill="#111"/>
<rect x="1960.1" y="1448.4" width="3.3" height="3.3" fill="#111"/>
<rect x="1972.8" y="1448.4" width="3.3" height="3.3" fill="#111"/>
<rect x="1979.2" y="1448.4" width="3.3" height="3.3" fill="#111"/>
<rect x="1985.5" y="1448.4" width="3.3" height="3.3" fill="#9a9a9a"/>
<rect x="1998.3" y="1448.4" width="3.3" height="3.3" fill="#9a9a9a"/>
<rect x="1855.1" y="1454.8" width="3.3" height="3.3" fill="#9a9a9a"/>
<rect x="1861.4" y="1454.8" width="3.3" height="3.3" fill="#c4c4c4"/>
<rect x="1886.9" y="1454.8" width="3.3" height="3.3" fill="#111"/>
<rect x="1893.2" y="1454.8" width="3.3" height="3.3" fill="#9a9a9a"/>
<rect x="1899.6" y="1454.8" width="3.3" height="3.3" fill="#9a9a9a"/>
<rect x="1918.7" y="1454.8" width="3.3" height="3.3" fill="#111"/>
<rect x="1925.0" y="1454.8" width="3.3" height="3.3" fill="#111"/>
<rect x="1931.4" y="1454.8" width="3.3" height="3.3" fill="#111"/>
<rect x="1937.8" y="1454.8" width="3.3" height="3.3" fill="#111"/>
<rect x="1944.1" y="1454.8" width="3.3" height="3.3" fill="#c4c4c4"/>
<rect x="1950.5" y="1454.8" width="3.3" height="3.3" fill="#c4c4c4"/>
<rect x="1956.8" y="1454.8" width="3.3" height="3.3" fill="#111"/>
<rect x="1963.2" y="1454.8" width="3.3" height="3.3" fill="#111"/>
<rect x="1969.6" y="1454.8" width="3.3" height="3.3" fill="#9a9a9a"/>
<rect x="1975.9" y="1454.8" width="3.3" height="3.3" fill="#9a9a9a"/>
<rect x="1982.3" y="1454.8" width="3.3" height="3.3" fill="#c4c4c4"/>
<rect x="2001.4" y="1454.8" width="3.3" height="3.3" fill="#c4c4c4"/>
<rect x="2007.7" y="1454.8" width="3.3" height="3.3" fill="#c4c4c4"/>
<rect x="1858.4" y="1461.2" width="3.3" height="3.3" fill="#111"/>
<rect x="1890.2" y="1461.2" width="3.3" height="3.3" fill="#9a9a9a"/>
<rect x="1896.5" y="1461.2" width="3.3" height="3.3" fill="#9a9a9a"/>
<rect x="1902.9" y="1461.2" width="3.3" height="3.3" fill="#111"/>
<rect x="1915.6" y="1461.2" width="3.3" height="3.3" fill="#111"/>
<rect x="1921.9" y="1461.2" width="3.3" height="3.3" fill="#111"/>
<rect x="1928.3" y="1461.2" width="3.3" height="3.3" fill="#111"/>
<rect x="1934.7" y="1461.2" width="3.3" height="3.3" fill="#111"/>
<rect x="1941.0" y="1461.2" width="3.3" height="3.3" fill="#9a9a9a"/>
<rect x="1947.4" y="1461.2" width="3.3" height="3.3" fill="#111"/>
<rect x="1953.7" y="1461.2" width="3.3" height="3.3" fill="#111"/>
<rect x="1960.1" y="1461.2" width="3.3" height="3.3" fill="#111"/>
<rect x="1966.5" y="1461.2" width="3.3" height="3.3" fill="#111"/>
<rect x="1972.8" y="1461.2" width="3.3" height="3.3" fill="#9a9a9a"/>
<rect x="1979.2" y="1461.2" width="3.3" height="3.3" fill="#111"/>
<rect x="1991.9" y="1461.2" width="3.3" height="3.3" fill="#c4c4c4"/>
<rect x="1998.3" y="1461.2" width="3.3" height="3.3" fill="#111"/>
<rect x="2004.6" y="1461.2" width="3.3" height="3.3" fill="#9a9a9a"/>
<rect x="2011.0" y="1461.2" width="3.3" height="3.3" fill="#9a9a9a"/>
<rect x="1848.7" y="1467.3" width="3.3" height="3.3" fill="#9a9a9a"/>
<rect x="1855.1" y="1467.3" width="3.3" height="3.3" fill="#9a9a9a"/>
<rect x="1874.2" y="1467.3" width="3.3" height="3.3" fill="#c4c4c4"/>
<rect x="1880.5" y="1467.3" width="3.3" height="3.3" fill="#c4c4c4"/>
<rect x="1982.3" y="1467.3" width="3.3" height="3.3" fill="#9a9a9a"/>
<rect x="1988.6" y="1467.3" width="3.3" height="3.3" fill="#9a9a9a"/>
<rect x="1995.0" y="1467.3" width="3.3" height="3.3" fill="#9a9a9a"/>
<rect x="2001.4" y="1467.3" width="3.3" height="3.3" fill="#9a9a9a"/>
<rect x="2014.1" y="1467.3" width="3.3" height="3.3" fill="#9a9a9a"/>
<rect x="1845.6" y="1476.4" width="3.3" height="3.3" fill="#111"/>
<rect x="1858.4" y="1476.4" width="3.3" height="3.3" fill="#c4c4c4"/>
<rect x="1864.7" y="1476.4" width="3.3" height="3.3" fill="#111"/>
<rect x="1871.1" y="1476.4" width="3.3" height="3.3" fill="#c4c4c4"/>
<rect x="1985.5" y="1476.4" width="3.3" height="3.3" fill="#111"/>
<rect x="1991.9" y="1476.4" width="3.3" height="3.3" fill="#c4c4c4"/>
<rect x="2017.3" y="1476.4" width="3.3" height="3.3" fill="#9a9a9a"/>
<rect x="1842.4" y="1482.8" width="3.3" height="3.3" fill="#9a9a9a"/>
<rect x="1848.7" y="1482.8" width="3.3" height="3.3" fill="#111"/>
<rect x="1861.4" y="1482.8" width="3.3" height="3.3" fill="#c4c4c4"/>
<rect x="1874.2" y="1482.8" width="3.3" height="3.3" fill="#9a9a9a"/>
<rect x="1988.6" y="1482.8" width="3.3" height="3.3" fill="#111"/>
<rect x="1845.6" y="1488.8" width="3.3" height="3.3" fill="#9a9a9a"/>
<rect x="1852.0" y="1488.8" width="3.3" height="3.3" fill="#c4c4c4"/>
<rect x="1858.4" y="1488.8" width="3.3" height="3.3" fill="#9a9a9a"/>
<rect x="1864.7" y="1488.8" width="3.3" height="3.3" fill="#111"/>
<rect x="1871.1" y="1488.8" width="3.3" height="3.3" fill="#111"/>
<rect x="1985.5" y="1488.8" width="3.3" height="3.3" fill="#111"/>
<rect x="1991.9" y="1488.8" width="3.3" height="3.3" fill="#111"/>
<rect x="2011.0" y="1488.8" width="3.3" height="3.3" fill="#9a9a9a"/>
<rect x="1855.1" y="1495.1" width="3.3" height="3.3" fill="#9a9a9a"/>
<rect x="1861.4" y="1495.1" width="3.3" height="3.3" fill="#111"/>
<rect x="1867.8" y="1495.1" width="3.3" height="3.3" fill="#111"/>
<rect x="1874.2" y="1495.1" width="3.3" height="3.3" fill="#111"/>
<rect x="1988.6" y="1495.1" width="3.3" height="3.3" fill="#111"/>
<rect x="2014.1" y="1495.1" width="3.3" height="3.3" fill="#c4c4c4"/>
<rect x="1845.6" y="1504.2" width="3.3" height="3.3" fill="#9a9a9a"/>
<rect x="1985.5" y="1504.2" width="3.3" height="3.3" fill="#c4c4c4"/>
<rect x="1991.9" y="1504.2" width="3.3" height="3.3" fill="#111"/>
<rect x="2004.6" y="1504.2" width="3.3" height="3.3" fill="#9a9a9a"/>
<rect x="1842.4" y="1510.6" width="3.3" height="3.3" fill="#9a9a9a"/>
<rect x="1848.7" y="1510.6" width="3.3" height="3.3" fill="#9a9a9a"/>
<rect x="1867.8" y="1510.6" width="3.3" height="3.3" fill="#111"/>
<rect x="1874.2" y="1510.6" width="3.3" height="3.3" fill="#111"/>
<rect x="1988.6" y="1510.6" width="3.3" height="3.3" fill="#111"/>
<rect x="2007.7" y="1510.6" width="3.3" height="3.3" fill="#111"/>
<rect x="1852.0" y="1516.9" width="3.3" height="3.3" fill="#9a9a9a"/>
<rect x="1858.4" y="1516.9" width="3.3" height="3.3" fill="#c4c4c4"/>
<rect x="1864.7" y="1516.9" width="3.3" height="3.3" fill="#111"/>
<rect x="1871.1" y="1516.9" width="3.3" height="3.3" fill="#111"/>
<rect x="1998.3" y="1516.9" width="3.3" height="3.3" fill="#c4c4c4"/>
<rect x="2011.0" y="1516.9" width="3.3" height="3.3" fill="#9a9a9a"/>
<rect x="1848.7" y="1523.3" width="3.3" height="3.3" fill="#9a9a9a"/>
<rect x="1855.1" y="1523.3" width="3.3" height="3.3" fill="#9a9a9a"/>
<rect x="1861.4" y="1523.3" width="3.3" height="3.3" fill="#9a9a9a"/>
<rect x="1867.8" y="1523.3" width="3.3" height="3.3" fill="#9a9a9a"/>
<rect x="1874.2" y="1523.3" width="3.3" height="3.3" fill="#c4c4c4"/>
<rect x="1988.6" y="1523.3" width="3.3" height="3.3" fill="#9a9a9a"/>
<rect x="1995.0" y="1523.3" width="3.3" height="3.3" fill="#9a9a9a"/>
<rect x="2001.4" y="1523.3" width="3.3" height="3.3" fill="#9a9a9a"/>
<rect x="2014.1" y="1523.3" width="3.3" height="3.3" fill="#9a9a9a"/>
<rect x="1845.6" y="1532.4" width="3.3" height="3.3" fill="#c4c4c4"/>
<rect x="1852.0" y="1532.4" width="3.3" height="3.3" fill="#c4c4c4"/>
<rect x="1864.7" y="1532.4" width="3.3" height="3.3" fill="#9a9a9a"/>
<rect x="1985.5" y="1532.4" width="3.3" height="3.3" fill="#c4c4c4"/>
<rect x="1991.9" y="1532.4" width="3.3" height="3.3" fill="#c4c4c4"/>
<rect x="1998.3" y="1532.4" width="3.3" height="3.3" fill="#c4c4c4"/>
<rect x="2004.6" y="1532.4" width="3.3" height="3.3" fill="#111"/>
<rect x="2011.0" y="1532.4" width="3.3" height="3.3" fill="#9a9a9a"/>
<rect x="1855.1" y="1538.7" width="3.3" height="3.3" fill="#9a9a9a"/>
<rect x="1861.4" y="1538.7" width="3.3" height="3.3" fill="#111"/>
<rect x="1874.2" y="1538.7" width="3.3" height="3.3" fill="#111"/>
<rect x="1988.6" y="1538.7" width="3.3" height="3.3" fill="#c4c4c4"/>
<rect x="2001.4" y="1538.7" width="3.3" height="3.3" fill="#c4c4c4"/>
<rect x="2007.7" y="1538.7" width="3.3" height="3.3" fill="#9a9a9a"/>
<rect x="1858.4" y="1545.1" width="3.3" height="3.3" fill="#c4c4c4"/>
<rect x="1864.7" y="1545.1" width="3.3" height="3.3" fill="#c4c4c4"/>
<rect x="1985.5" y="1545.1" width="3.3" height="3.3" fill="#111"/>
<rect x="1991.9" y="1545.1" width="3.3" height="3.3" fill="#c4c4c4"/>
<rect x="1998.3" y="1545.1" width="3.3" height="3.3" fill="#9a9a9a"/>
<rect x="2004.6" y="1545.1" width="3.3" height="3.3" fill="#9a9a9a"/>
<rect x="1867.8" y="1551.5" width="3.3" height="3.3" fill="#c4c4c4"/>
<rect x="1874.2" y="1551.5" width="3.3" height="3.3" fill="#c4c4c4"/>
<rect x="1988.6" y="1551.5" width="3.3" height="3.3" fill="#9a9a9a"/>
<rect x="1995.0" y="1551.5" width="3.3" height="3.3" fill="#c4c4c4"/>
<rect x="1871.1" y="1560.6" width="3.3" height="3.3" fill="#c4c4c4"/>
<rect x="1877.4" y="1560.6" width="3.3" height="3.3" fill="#c4c4c4"/>
<rect x="1890.2" y="1560.6" width="3.3" height="3.3" fill="#c4c4c4"/>
<rect x="1896.5" y="1560.6" width="3.3" height="3.3" fill="#c4c4c4"/>
<rect x="1902.9" y="1560.6" width="3.3" height="3.3" fill="#c4c4c4"/>
<rect x="1934.7" y="1560.6" width="3.3" height="3.3" fill="#111"/>
<rect x="1941.0" y="1560.6" width="3.3" height="3.3" fill="#c4c4c4"/>
<rect x="1960.1" y="1560.6" width="3.3" height="3.3" fill="#111"/>
<rect x="1966.5" y="1560.6" width="3.3" height="3.3" fill="#111"/>
<rect x="1972.8" y="1560.6" width="3.3" height="3.3" fill="#9a9a9a"/>
<rect x="1979.2" y="1560.6" width="3.3" height="3.3" fill="#111"/>
<rect x="1985.5" y="1560.6" width="3.3" height="3.3" fill="#9a9a9a"/>
<rect x="1880.5" y="1566.9" width="3.3" height="3.3" fill="#111"/>
<rect x="1906.0" y="1566.9" width="3.3" height="3.3" fill="#111"/>
<rect x="1925.0" y="1566.9" width="3.3" height="3.3" fill="#111"/>
<rect x="1944.1" y="1566.9" width="3.3" height="3.3" fill="#111"/>
<rect x="1956.8" y="1566.9" width="3.3" height="3.3" fill="#9a9a9a"/>
<rect x="1963.2" y="1566.9" width="3.3" height="3.3" fill="#c4c4c4"/>
<rect x="1896.5" y="1573.3" width="3.3" height="3.3" fill="#9a9a9a"/>
<rect x="1902.9" y="1573.3" width="3.3" height="3.3" fill="#9a9a9a"/>
<rect x="1909.2" y="1573.3" width="3.3" height="3.3" fill="#c4c4c4"/>
<rect x="1915.6" y="1573.3" width="3.3" height="3.3" fill="#9a9a9a"/>
<rect x="1921.9" y="1573.3" width="3.3" height="3.3" fill="#9a9a9a"/>
<rect x="1928.3" y="1573.3" width="3.3" height="3.3" fill="#9a9a9a"/>
<rect x="1941.0" y="1573.3" width="3.3" height="3.3" fill="#111"/>
<rect x="1947.4" y="1573.3" width="3.3" height="3.3" fill="#c4c4c4"/>
<rect x="1953.7" y="1573.3" width="3.3" height="3.3" fill="#9a9a9a"/>
<rect x="1960.1" y="1573.3" width="3.3" height="3.3" fill="#111"/>
<rect x="1966.5" y="1573.3" width="3.3" height="3.3" fill="#9a9a9a"/>
<rect x="1925.0" y="1579.3" width="3.3" height="3.3" fill="#c4c4c4"/>
<rect x="1931.4" y="1579.3" width="3.3" height="3.3" fill="#111"/>
<g filter="url(#b05)">
<rect x="1890.5" y="1493.1" width="80.3" height="35.8" fill="#c9c9c9"/>
<rect x="1893.0" y="1495.5" width="75.6" height="30.9" fill="#2f2f2f"/>
<rect x="1899.9" y="1478.6" width="61.8" height="4" fill="#dcdcdc"/>
<rect x="1919.0" y="1542.2" width="24.5" height="2.6" fill="#c6c6c6"/>
<rect x="1896.3" y="1587.6" width="90.9" height="3.6" fill="#cfcfcf"/>
<rect x="1896.8" y="1598.5" width="15.3" height="8.7" rx="2" fill="#a9a9a9"/>
<rect x="1899.0" y="1611.2" width="10.9" height="2" fill="#dadada"/>
<rect x="1923.2" y="1598.5" width="15.3" height="8.7" rx="2" fill="#a9a9a9"/>
<rect x="1925.4" y="1611.2" width="10.9" height="2" fill="#dadada"/>
<rect x="1949.5" y="1598.5" width="15.3" height="8.7" rx="2" fill="#a9a9a9"/>
<rect x="1951.7" y="1611.2" width="10.9" height="2" fill="#dadada"/>
</g></g>

<!-- 54_thd.svg -->
<defs>
  <linearGradient id="th1" x1="0" y1="0" x2="1" y2="0">
    <stop offset="0" stop-color="#e9e9e9"/>
    <stop offset="0.06" stop-color="#f3f3f3"/>
    <stop offset="0.93" stop-color="#f3f3f3"/>
    <stop offset="0.97" stop-color="#e2e2e2"/>
    <stop offset="1" stop-color="#ececec"/>
  </linearGradient>
</defs>
<g id="thd"><g filter="url(#b1)">
<rect x="2268.3" y="1401.1" width="301.4" height="236.0" rx="8" fill="url(#th1)"/>
<rect x="2277.1" y="1401.1" width="284.2" height="2.6" fill="#b5b5b5"/>
<rect x="2275.4" y="1634.0" width="287.6" height="3" fill="#dadada"/>
<polygon points="2286.9,1419.7 2549.4,1419.7 2551.9,1422.6 2551.9,1615.9 2286.9,1615.9 2286.9,1547.4 2299.9,1538.1 2286.9,1527.9 2286.9,1513.6 2299.9,1503.4 2286.9,1493.3 2286.9,1482.3 2299.9,1471.3 2286.9,1461.1 2286.9,1448.4 2299.9,1437.8 2286.9,1428.1" fill="#070808"/>
<rect x="2315.1" y="1441.3" width="208.9" height="152.6" fill="#aeb2b1"/>
</g>
<g filter="url(#b05)">
<rect x="2502.4" y="1448.4" width="14.9" height="7.6" fill="#2c2e2e"/>
<path d="M2324.4,1447.9 L2336.3,1447.9 L2330.3,1454.0 z" fill="#3a3c3c"/>
<rect x="2340.5" y="1451.3" width="5.1" height="11.5" fill="#3a3c3c"/>
<rect x="2277.9" y="1435.7" width="2.4" height="2.4" fill="#777"/>
<rect x="2277.9" y="1470.4" width="7" height="1.8" fill="#9a9a9a"/>
<rect x="2280.4" y="1467.9" width="1.8" height="7" fill="#9a9a9a"/>
<rect x="2277.9" y="1504.8" width="7" height="1.8" fill="#aaa"/>
<rect x="2280.4" y="1538.6" width="6" height="2" fill="#888"/>
<text x="2370.4" y="1512.9" font-size="74" fill="#2a2c2c" textLength="88.0" lengthAdjust="spacingAndGlyphs">26.5</text>
<text x="2398.5" y="1581.2" font-size="74" fill="#2a2c2c" textLength="59.9" lengthAdjust="spacingAndGlyphs">60</text>
<text x="2467.4" y="1481.1" font-size="22" fill="#3a3c3c" textLength="16.9" lengthAdjust="spacingAndGlyphs">°C</text>
<text x="2464.5" y="1577.8" font-size="24" fill="#3a3c3c" textLength="19.3" lengthAdjust="spacingAndGlyphs">%</text>
<text x="2353.2" y="1581.2" font-size="18" fill="#4a4c4c" textLength="27.4" lengthAdjust="spacingAndGlyphs">LED</text>
<rect x="2333.7" y="1568.5" width="2.4" height="4" fill="#4a4c4c"/>
<rect x="2333.7" y="1575.3" width="2.4" height="4" fill="#4a4c4c"/>
<text x="2420.8" y="1604.9" font-size="9" font-style="italic" font-weight="700" fill="#4f9aa0" text-anchor="middle" textLength="44.0" lengthAdjust="spacingAndGlyphs">INNOPRO</text>
<rect x="2413.2" y="1607.9" width="24.5" height="3" fill="#356a70"/>
</g></g>

<!-- 55_doorm.svg -->
<defs>
  <linearGradient id="dm1" x1="0" y1="0" x2="1" y2="0">
    <stop offset="0" stop-color="#cfcfcf"/>
    <stop offset="0.04" stop-color="#e2e2e2"/>
    <stop offset="0.2" stop-color="#f1f1f1"/>
    <stop offset="0.5" stop-color="#f8f8f8"/>
    <stop offset="0.93" stop-color="#f4f4f4"/>
    <stop offset="0.975" stop-color="#b4b4b4"/>
    <stop offset="1" stop-color="#e4e4e4"/>
  </linearGradient>
  <linearGradient id="dm2" x1="0" y1="0" x2="1" y2="0">
    <stop offset="0" stop-color="#8f8f8f"/>
    <stop offset="0.07" stop-color="#dedede"/>
    <stop offset="0.3" stop-color="#efefef"/>
    <stop offset="0.8" stop-color="#f6f6f6"/>
    <stop offset="1" stop-color="#e3e3e3"/>
  </linearGradient>
</defs>
<g id="doorm" filter="url(#b1)">
<rect x="2757.3" y="1375.4" width="87.4" height="269.4" rx="14" ry="16" fill="url(#dm1)"/>
<rect x="2779.0" y="1375.0" width="47.0" height="2.4" fill="#cfcfcf"/>
<rect x="2779.0" y="1642.0" width="45.1" height="2.4" fill="#d0d0d0"/>
<circle cx="2801.0" cy="1458.7" r="27.3" fill="#f7f7f7" stroke="#9c9c9c" stroke-width="1.8"/>
<rect x="2848.5" y="1431.8" width="48.9" height="156.6" rx="10" ry="11" fill="url(#dm2)"/>
<rect x="2859.8" y="1431.4" width="26.3" height="2.4" fill="#a9a9a9"/>
<rect x="2859.8" y="1586.5" width="26.3" height="2.2" fill="#cdcdcd"/>
<rect x="2829.7" y="1506.6" width="11.3" height="7.5" fill="#e6e6e6"/>
<rect x="2850.4" y="1505.7" width="9.4" height="8.5" fill="#e2e2e2"/>
</g>

<!-- 60_ebtn.svg -->
<defs>
  <linearGradient id="eb1" x1="0" y1="0" x2="1" y2="0">
    <stop offset="0" stop-color="#e4e4e7"/>
    <stop offset="0.1" stop-color="#eeeef0"/>
    <stop offset="0.8" stop-color="#ededf0"/>
    <stop offset="1" stop-color="#e2e2e6"/>
  </linearGradient>
  <linearGradient id="eb2" x1="0" y1="0" x2="0" y2="1">
    <stop offset="0" stop-color="#e2e2e2"/>
    <stop offset="0.4" stop-color="#f4f4f4"/>
    <stop offset="1" stop-color="#f7f7f7"/>
  </linearGradient>
  <radialGradient id="eb3" cx="0.45" cy="0.45" r="0.6">
    <stop offset="0" stop-color="#d92626"/>
    <stop offset="0.8" stop-color="#d42828"/>
    <stop offset="1" stop-color="#b82a2c"/>
  </radialGradient>
</defs>
<g id="ebtn" filter="url(#b1)">
<path d="M429.7,1852.0 q0,-16 16,-19 l40,-6 q12,-1 20,2 q14,5 14,20 v197.4 q0,14 -14,18 l-38,8 q-12,2 -24,-4 q-12,-6 -13,-20z" fill="url(#eb1)"/>
<circle cx="460.8" cy="1903.7" r="22.9" fill="#f1f1f3" stroke="#c3c3c5" stroke-width="2"/>
<rect x="510.6" y="1891.5" width="2.4" height="26.3" fill="#c9c9cb"/>
<text transform="translate(457.0,1958.3) rotate(90)" font-size="13" font-weight="700" fill="#d2d2d5" textLength="73.3" lengthAdjust="spacingAndGlyphs">INNOPRO</text>
<rect x="551.0" y="1818.2" width="254.7" height="253.8" rx="3" fill="#f5f5f5"/>
<rect x="551.0" y="1818.2" width="254.7" height="27.3" fill="url(#eb2)"/>
<rect x="551.0" y="1844.5" width="254.7" height="2.2" fill="#9b9b9b"/>
<rect x="551.0" y="1857.7" width="254.7" height="2" fill="#e6e6e6"/>
<rect x="803.7" y="1818.2" width="2" height="253.8" fill="#c2c2c2"/>
<rect x="551.0" y="2060.7" width="254.7" height="2" fill="#e2e2e2"/>
<rect x="556.6" y="2070.1" width="244.4" height="2.4" fill="#cdcdcd"/>
<rect x="599.9" y="1867.1" width="138.2" height="137.2" fill="#fcfcfc"/>
<circle cx="678.3" cy="1945.3" r="45.7" fill="url(#eb3)"/>
<circle cx="678.3" cy="2014.7" r="7.9" fill="#b3b3b3"/>
<rect x="674.1" y="2025.0" width="8.5" height="9.8" fill="#adadad"/>
<rect x="671.3" y="2043.8" width="15.0" height="1.6" fill="#e3e3e3"/>
</g>

<!-- 61_llc.svg -->
<defs>
  <linearGradient id="ll1" x1="0" y1="0" x2="0" y2="1">
    <stop offset="0" stop-color="#f4f3ec"/>
    <stop offset="0.6" stop-color="#ecebe2"/>
    <stop offset="1" stop-color="#d9d8ce"/>
  </linearGradient>
  <linearGradient id="ll2" x1="0" y1="0" x2="1" y2="0">
    <stop offset="0" stop-color="#b9b9b9"/>
    <stop offset="0.25" stop-color="#efefef"/>
    <stop offset="0.45" stop-color="#8c6458"/>
    <stop offset="0.6" stop-color="#9a7468"/>
    <stop offset="0.75" stop-color="#e4e4e4"/>
    <stop offset="1" stop-color="#a9a9a9"/>
  </linearGradient>
  <radialGradient id="ll3" cx="0.45" cy="0.4" r="0.6">
    <stop offset="0" stop-color="#3c4d44"/>
    <stop offset="0.7" stop-color="#34443c"/>
    <stop offset="1" stop-color="#2b3832"/>
  </radialGradient>
  <linearGradient id="ll4" gradientUnits="userSpaceOnUse" x1="1001.3" y1="2005.4" x2="1008.9" y2="2010.9">
    <stop offset="0" stop-color="#8a8a8a"/>
    <stop offset="0.35" stop-color="#dcdcdc"/>
    <stop offset="0.65" stop-color="#b4b4b4"/>
    <stop offset="1" stop-color="#6f6f6f"/>
  </linearGradient>
</defs>
<g id="llc" filter="url(#b05)">
<path d="M979.3,1998.5 C981.3,2023.3 1004.8,2037.1 1037.8,2037.4 S1099.9,2028.8 1134.3,2009.5" fill="none" stroke="#151515" stroke-width="1.8"/>
<circle cx="1113.0" cy="1964.0" r="46.2" fill="none" stroke="#141414" stroke-width="15.4"/>
<circle cx="1113.0" cy="1964.0" r="48.2" fill="none" stroke="#3a3a3a" stroke-width="1"/>
<circle cx="1113.0" cy="1964.0" r="43.4" fill="none" stroke="#333" stroke-width="1"/>
<path d="M1042.7,1962.0 L1069.5,1935.1" stroke="#151515" stroke-width="1.8" fill="none"/>
<polygon points="1024.7,1976.5 1039.2,1959.9 1044.7,1964.0 1030.9,1981.3" fill="#1a1a1a"/>
<polygon points="1001.3,2005.4 1024.0,1975.8 1031.6,1981.3 1008.9,2010.9" fill="url(#ll4)"/>
<ellipse cx="1005.0" cy="2008.2" rx="4.7" ry="1.9" fill="#a8a8a8" transform="rotate(38 1005.0 2008.2)"/>
<rect x="926.9" y="1873.1" width="4.1" height="23.4" rx="1.5" fill="#8f8f8f"/>
<rect x="929.2" y="1873.1" width="16.3" height="23.4" rx="2.0" fill="url(#ll1)"/>
<rect x="944.1" y="1866.2" width="71.0" height="34.5" rx="2.0" fill="url(#ll1)"/>
<rect x="1015.1" y="1873.8" width="13.8" height="22.1" rx="1.0" fill="url(#ll1)"/>
<rect x="1027.5" y="1874.2" width="17.5" height="21.9" rx="4.0" fill="#171717"/>
<rect x="940.0" y="1897.9" width="5.5" height="5.5" rx="2.0" fill="#e6e5dc"/>
<rect x="1015.8" y="1897.9" width="5.5" height="5.5" rx="2.0" fill="#e6e5dc"/>
<rect x="964.8" y="1946.1" width="30.3" height="20.0" rx="6.0" fill="url(#ll1)"/>
<rect x="970.6" y="1964.7" width="18.7" height="35.1" rx="2.0" fill="url(#ll2)"/>
<rect x="969.6" y="1978.5" width="20.7" height="6.2" rx="1.0" fill="#d9d9d9" opacity="0.85"/>
<rect x="974.4" y="1998.5" width="10.3" height="2.8" rx="1.0" fill="#9a9a9a"/>
<circle cx="979.5" cy="1910.6" r="37.6" fill="#3b4a42"/>
<circle cx="979.5" cy="1910.6" r="34.5" fill="none" stroke="#4a5b52" stroke-width="2.4"/>
<circle cx="979.5" cy="1910.6" r="27.3" fill="url(#ll3)"/>
<rect x="959.3" y="1902.7" width="40.2" height="15.6" rx="1.0" fill="#4d5f54"/>
<circle cx="979.5" cy="1892.7" r="1.8" fill="none" stroke="#c9d0cc" stroke-width="0.6"/>
<circle cx="979.5" cy="1928.2" r="1.8" fill="none" stroke="#c9d0cc" stroke-width="0.6"/>
<text x="979.5" y="1888.5" font-size="2.6" fill="#c9d0cc" text-anchor="middle">POWER</text>
<text x="979.5" y="1900.9" font-size="2.4" fill="#d5dad7" text-anchor="middle" textLength="43.4" lengthAdjust="spacingAndGlyphs">Remote Wireless Pressure Data Acquisition Terminal</text>
<text x="979.5" y="1934.8" font-size="2.6" fill="#c9d0cc" text-anchor="middle">CALIBRATE</text>
</g>

<!-- 62_prc.svg -->
<defs>
  <linearGradient id="pc2" x1="0" y1="0" x2="1" y2="0">
    <stop offset="0" stop-color="#b5b5b5"/>
    <stop offset="0.22" stop-color="#f0f0f0"/>
    <stop offset="0.42" stop-color="#8a6a5e"/>
    <stop offset="0.58" stop-color="#9a7a6e"/>
    <stop offset="0.78" stop-color="#e6e6e6"/>
    <stop offset="1" stop-color="#a5a5a5"/>
  </linearGradient>
  <linearGradient id="pc3" x1="0" y1="0" x2="1" y2="0">
    <stop offset="0" stop-color="#9a9a9a"/>
    <stop offset="0.3" stop-color="#ececec"/>
    <stop offset="0.6" stop-color="#c4c4c4"/>
    <stop offset="1" stop-color="#8c8c8c"/>
  </linearGradient>
  <linearGradient id="pc4" x1="0" y1="0" x2="0" y2="1">
    <stop offset="0" stop-color="#d0d0d0" stop-opacity="0.7"/>
    <stop offset="1" stop-color="#ffffff" stop-opacity="0"/>
  </linearGradient>
  <radialGradient id="pc5" cx="0.45" cy="0.4" r="0.6">
    <stop offset="0" stop-color="#3b4c43"/>
    <stop offset="0.7" stop-color="#33433b"/>
    <stop offset="1" stop-color="#2a3731"/>
  </radialGradient>
</defs>
<g id="prc" filter="url(#b05)">
<path d="M1633.3,1736.1 V1867.1" stroke="#1c1c1c" stroke-width="1.3" fill="none"/>
<rect x="1631.6" y="1736.1" width="3.4" height="11.2" rx="1.5" fill="#1c1c1c"/>
<path d="M1628.4,1815.8 L1638.7,1813.8 M1628.4,1819.4 L1638.7,1817.5 M1628.4,1823.1 L1638.7,1821.2 M1628.4,1826.8 L1638.7,1824.8 M1628.4,1830.4 L1638.7,1828.5" stroke="#1a1a1a" stroke-width="2.2" fill="none" stroke-linecap="round"/>
<polygon points="1631.6,1862.2 1635.0,1862.2 1637.0,1891.5 1646.8,1908.7 1619.9,1908.7 1630.4,1891.5" fill="#141414"/>
<rect x="1618.2" y="1908.2" width="35.2" height="12.7" rx="3.0" fill="#121212"/>
<path d="M1569.8,1895.2 C1582.0,1896.4 1589.3,1889.1 1595.4,1876.9 C1601.5,1862.2 1607.6,1851.2 1611.8,1856.8 C1615.0,1861.0 1606.4,1873.2 1599.1,1887.9 C1591.8,1902.5 1583.2,1925.8 1579.1,1942.4 C1576.6,1948.3 1569.3,1945.8 1568.5,1935.5 C1568.5,1920.9 1578.3,1903.8 1591.8,1896.4 C1599.1,1892.8 1596.6,1915.5 1618.6,1915.5" fill="none" stroke="#121212" stroke-width="3.6" stroke-linejoin="round"/>
<path d="M1605.2,1854.9 C1594.2,1867.1 1584.4,1891.5 1578.3,1916.0 C1575.9,1928.2 1573.4,1938.0 1574.2,1942.4" fill="none" stroke="#161616" stroke-width="3.2"/>
<path d="M1613.3,1862.2 C1604.0,1876.9 1591.8,1911.1 1583.2,1940.4" fill="none" stroke="#161616" stroke-width="3"/>
<rect x="1376.2" y="1879.3" width="7.3" height="29.3" rx="2.0" fill="#8c8c8c"/>
<rect x="1381.6" y="1875.7" width="24.4" height="39.1" rx="3.0" fill="url(#ll1)"/>
<rect x="1404.0" y="1863.4" width="118.1" height="52.6" rx="2.0" fill="url(#ll1)"/>
<rect x="1522.1" y="1876.9" width="22.7" height="39.6" rx="2.0" fill="url(#ll1)"/>
<rect x="1543.4" y="1878.1" width="28.4" height="35.0" rx="5.0" fill="#161616"/>
<rect x="1395.0" y="1917.2" width="9.8" height="9.0" rx="3.0" fill="#e6e5dc"/>
<rect x="1522.1" y="1917.2" width="9.8" height="9.0" rx="3.0" fill="#e6e5dc"/>
<rect x="1439.0" y="1999.1" width="47.7" height="33.0" rx="6.0" fill="url(#ll1)"/>
<rect x="1446.3" y="2030.9" width="33.0" height="35.4" rx="2.0" fill="url(#pc2)"/>
<rect x="1444.6" y="2048.0" width="36.7" height="9.8" rx="2.0" fill="#d6d6d6" opacity="0.8"/>
<rect x="1452.4" y="2065.1" width="20.8" height="24.9" rx="2.0" fill="url(#pc3)"/>
<rect x="1452.4" y="2067.5" width="20.8" height="1.2" rx="0.0" fill="#8a8a8a" opacity="0.45"/>
<rect x="1452.4" y="2071.0" width="20.8" height="1.2" rx="0.0" fill="#8a8a8a" opacity="0.45"/>
<rect x="1452.4" y="2074.4" width="20.8" height="1.2" rx="0.0" fill="#8a8a8a" opacity="0.45"/>
<rect x="1452.4" y="2077.8" width="20.8" height="1.2" rx="0.0" fill="#8a8a8a" opacity="0.45"/>
<rect x="1452.4" y="2081.2" width="20.8" height="1.2" rx="0.0" fill="#8a8a8a" opacity="0.45"/>
<rect x="1452.4" y="2084.6" width="20.8" height="1.2" rx="0.0" fill="#8a8a8a" opacity="0.45"/>
<rect x="1452.4" y="2088.1" width="20.8" height="1.2" rx="0.0" fill="#8a8a8a" opacity="0.45"/>
<rect x="1451.2" y="2090.0" width="23.2" height="27.6" rx="2.0" fill="url(#pc4)"/>
<circle cx="1463.4" cy="1939.2" r="62.8" fill="#3a4941"/>
<circle cx="1463.4" cy="1939.2" r="56.7" fill="none" stroke="#4a5b52" stroke-width="3.5"/>
<circle cx="1463.4" cy="1939.2" r="44.5" fill="url(#pc5)"/>
<rect x="1428.5" y="1925.8" width="68.0" height="24.9" rx="1.0" fill="#4e6055"/>
<circle cx="1463.2" cy="1909.1" r="3" fill="none" stroke="#cfd6d2" stroke-width="0.8"/>
<circle cx="1463.2" cy="1968.3" r="3" fill="none" stroke="#cfd6d2" stroke-width="0.8"/>
<text x="1463.9" y="1901.8" font-size="4.2" fill="#cfd6d2" text-anchor="middle">POWER</text>
<text x="1463.4" y="1922.3" font-size="3.6" fill="#d5dad7" text-anchor="middle" textLength="70.9" lengthAdjust="spacingAndGlyphs">Remote Wireless Pressure Data Acquisition Terminal</text>
<text x="1463.9" y="1978.8" font-size="4.2" fill="#cfd6d2" text-anchor="middle">CALIBRATE</text>
</g>

<!-- 63_utd.svg -->
<defs>
  <linearGradient id="ut1" x1="0.8" y1="0" x2="0.2" y2="1">
    <stop offset="0" stop-color="#50545a"/>
    <stop offset="0.5" stop-color="#5b5f65"/>
    <stop offset="1" stop-color="#777b83"/>
  </linearGradient>
  <linearGradient id="ut2" x1="0" y1="0" x2="1" y2="1">
    <stop offset="0" stop-color="#2a2b30"/>
    <stop offset="0.5" stop-color="#15161a"/>
    <stop offset="1" stop-color="#24252a"/>
  </linearGradient>
  <linearGradient id="ut3" x1="0" y1="0" x2="0" y2="1">
    <stop offset="0" stop-color="#f4f4f4"/>
    <stop offset="0.65" stop-color="#f8f8f8"/>
    <stop offset="1" stop-color="#ffffff" stop-opacity="0"/>
  </linearGradient>
</defs>
<g id="utd" filter="url(#b1)">
<path d="M1853.1,2001.7 C1848.3,2023.1 1813.3,2034.7 1809.4,2050.3 S1828.8,2065.8 1848.3,2048.3 S1840.5,2023.1 1828.8,2042.5 S1838.6,2071.6 1831.8,2081.4" fill="none" stroke="#151515" stroke-width="3"/>
<path d="M1851.2,2013.4 C1846.3,2034.7 1819.1,2042.5 1815.3,2058.0 S1844.4,2071.6 1850.2,2054.2" fill="none" stroke="#1a1a1a" stroke-width="3"/>
<polygon points="1825.0,2058.0 1848.3,2050.3 1852.2,2077.5 1832.7,2089.1 1825.0,2081.4" fill="#1a1a1a"/>
<rect x="1815.3" y="2067.8" width="11.7" height="3.9" rx="1.0" fill="#b0b0b0"/>
<rect x="1813.3" y="2077.5" width="12.6" height="3.9" rx="1.0" fill="#b0b0b0"/>
<rect x="1851.2" y="1802.6" width="226.3" height="257.4" rx="1.0" fill="url(#ut1)"/>
<rect x="1851.2" y="1802.6" width="226.3" height="4.9" rx="0.0" fill="#4a4e54" opacity="0.6"/>
<rect x="1866.1" y="1842.1" width="79.6" height="48.2" rx="1.0" fill="#72757b"/>
<rect x="1868.7" y="1845.2" width="75.8" height="42.5" rx="0.0" fill="url(#ut2)"/>
<polygon points="1871.6,1854.1 1906.5,1846.3 1941.5,1848.3 1941.5,1871.6 1898.8,1883.2 1871.6,1875.5" fill="#3a3c44" opacity="0.7"/>
<rect x="1956.8" y="1857.2" width="11.3" height="6.6" rx="1.5" fill="#e4e4e4"/>
<rect x="1959.8" y="1859.3" width="5.4" height="2.3" rx="0.0" fill="#a0a2a6"/>
<rect x="1956.8" y="1866.3" width="11.3" height="6.6" rx="1.5" fill="#e4e4e4"/>
<rect x="1959.8" y="1868.5" width="5.4" height="2.3" rx="0.0" fill="#a0a2a6"/>
<rect x="1956.8" y="1875.5" width="11.3" height="6.6" rx="1.5" fill="#e4e4e4"/>
<rect x="1959.8" y="1877.6" width="5.4" height="2.3" rx="0.0" fill="#a0a2a6"/>
<rect x="1956.8" y="1884.4" width="11.3" height="6.6" rx="1.5" fill="#e4e4e4"/>
<rect x="1959.8" y="1886.5" width="5.4" height="2.3" rx="0.0" fill="#a0a2a6"/>
<rect x="1970.4" y="1857.2" width="11.3" height="6.6" rx="1.5" fill="#e4e4e4"/>
<rect x="1973.4" y="1859.3" width="5.4" height="2.3" rx="0.0" fill="#a0a2a6"/>
<rect x="1970.4" y="1866.3" width="11.3" height="6.6" rx="1.5" fill="#e4e4e4"/>
<rect x="1973.4" y="1868.5" width="5.4" height="2.3" rx="0.0" fill="#a0a2a6"/>
<rect x="1970.4" y="1875.5" width="11.3" height="6.6" rx="1.5" fill="#e4e4e4"/>
<rect x="1973.4" y="1877.6" width="5.4" height="2.3" rx="0.0" fill="#a0a2a6"/>
<rect x="1970.4" y="1884.4" width="11.3" height="6.6" rx="1.5" fill="#e4e4e4"/>
<rect x="1973.4" y="1886.5" width="5.4" height="2.3" rx="0.0" fill="#a0a2a6"/>
<rect x="1984.0" y="1857.2" width="11.3" height="6.6" rx="1.5" fill="#e4e4e4"/>
<rect x="1987.0" y="1859.3" width="5.4" height="2.3" rx="0.0" fill="#a0a2a6"/>
<rect x="1984.0" y="1866.3" width="11.3" height="6.6" rx="1.5" fill="#e4e4e4"/>
<rect x="1987.0" y="1868.5" width="5.4" height="2.3" rx="0.0" fill="#a0a2a6"/>
<rect x="1984.0" y="1875.5" width="11.3" height="6.6" rx="1.5" fill="#e4e4e4"/>
<rect x="1987.0" y="1877.6" width="5.4" height="2.3" rx="0.0" fill="#a0a2a6"/>
<rect x="1984.0" y="1884.4" width="11.3" height="6.6" rx="1.5" fill="#e4e4e4"/>
<rect x="1987.0" y="1886.5" width="5.4" height="2.3" rx="0.0" fill="#a0a2a6"/>
<rect x="1999.6" y="1857.2" width="11.3" height="6.6" rx="1.5" fill="#e4e4e4"/>
<rect x="2002.5" y="1859.3" width="5.4" height="2.3" rx="0.0" fill="#a0a2a6"/>
<rect x="1999.6" y="1866.3" width="11.3" height="6.6" rx="1.5" fill="#e4e4e4"/>
<rect x="2002.5" y="1868.5" width="5.4" height="2.3" rx="0.0" fill="#a0a2a6"/>
<rect x="1999.6" y="1875.5" width="11.3" height="6.6" rx="1.5" fill="#e4e4e4"/>
<rect x="2002.5" y="1877.6" width="5.4" height="2.3" rx="0.0" fill="#a0a2a6"/>
<rect x="1999.6" y="1884.4" width="11.3" height="6.6" rx="1.5" fill="#e4e4e4"/>
<rect x="2002.5" y="1886.5" width="5.4" height="2.3" rx="0.0" fill="#a0a2a6"/>
<rect x="2012.6" y="1857.2" width="11.3" height="6.6" rx="1.5" fill="#e4e4e4"/>
<rect x="2015.5" y="1859.3" width="5.4" height="2.3" rx="0.0" fill="#a0a2a6"/>
<rect x="2012.6" y="1866.3" width="11.3" height="6.6" rx="1.5" fill="#e4e4e4"/>
<rect x="2015.5" y="1868.5" width="5.4" height="2.3" rx="0.0" fill="#a0a2a6"/>
<rect x="2012.6" y="1875.5" width="11.3" height="6.6" rx="1.5" fill="#e4e4e4"/>
<rect x="2015.5" y="1877.6" width="5.4" height="2.3" rx="0.0" fill="#a0a2a6"/>
<rect x="2012.6" y="1884.4" width="11.3" height="6.6" rx="1.5" fill="#e4e4e4"/>
<rect x="2015.5" y="1886.5" width="5.4" height="2.3" rx="0.0" fill="#a0a2a6"/>
<rect x="2025.8" y="1857.2" width="11.3" height="6.6" rx="1.5" fill="#e4e4e4"/>
<rect x="2028.7" y="1859.3" width="5.4" height="2.3" rx="0.0" fill="#a0a2a6"/>
<rect x="2025.8" y="1866.3" width="11.3" height="6.6" rx="1.5" fill="#e4e4e4"/>
<rect x="2028.7" y="1868.5" width="5.4" height="2.3" rx="0.0" fill="#a0a2a6"/>
<rect x="2025.8" y="1875.5" width="11.3" height="6.6" rx="1.5" fill="#e4e4e4"/>
<rect x="2028.7" y="1877.6" width="5.4" height="2.3" rx="0.0" fill="#a0a2a6"/>
<rect x="2025.8" y="1884.4" width="11.3" height="6.6" rx="1.5" fill="#e4e4e4"/>
<rect x="2028.7" y="1886.5" width="5.4" height="2.3" rx="0.0" fill="#a0a2a6"/>
<rect x="2041.7" y="1857.2" width="11.3" height="6.6" rx="1.5" fill="#e4e4e4"/>
<rect x="2044.6" y="1859.3" width="5.4" height="2.3" rx="0.0" fill="#a0a2a6"/>
<rect x="2041.7" y="1866.3" width="11.3" height="6.6" rx="1.5" fill="#e4e4e4"/>
<rect x="2044.6" y="1868.5" width="5.4" height="2.3" rx="0.0" fill="#a0a2a6"/>
<rect x="2041.7" y="1875.5" width="11.3" height="6.6" rx="1.5" fill="#e4e4e4"/>
<rect x="2044.6" y="1877.6" width="5.4" height="2.3" rx="0.0" fill="#a0a2a6"/>
<rect x="2041.7" y="1884.4" width="11.3" height="6.6" rx="1.5" fill="#e4e4e4"/>
<rect x="2044.6" y="1886.5" width="5.4" height="2.3" rx="0.0" fill="#a0a2a6"/>
<rect x="2055.3" y="1857.2" width="11.3" height="6.6" rx="1.5" fill="#e0402e"/>
<rect x="2055.3" y="1866.3" width="11.3" height="6.6" rx="1.5" fill="#2c6b5c"/>
<rect x="2055.3" y="1875.5" width="11.3" height="6.6" rx="1.5" fill="#3a5ba3"/>
<rect x="2055.3" y="1884.4" width="11.3" height="6.6" rx="1.5" fill="#e2d24e"/>
<rect x="1964.8" y="1842.4" width="11.7" height="2.7" rx="0.0" fill="#b9bbbf" opacity="0.8"/>
<rect x="1964.8" y="1848.3" width="11.7" height="2.3" rx="0.0" fill="#c9cbcf" opacity="0.8"/>
<rect x="1986.2" y="1842.4" width="11.7" height="2.7" rx="0.0" fill="#b9bbbf" opacity="0.8"/>
<rect x="1986.2" y="1848.3" width="11.7" height="2.3" rx="0.0" fill="#c9cbcf" opacity="0.8"/>
<rect x="2009.5" y="1842.4" width="11.7" height="2.7" rx="0.0" fill="#b9bbbf" opacity="0.8"/>
<rect x="2009.5" y="1848.3" width="11.7" height="2.3" rx="0.0" fill="#c9cbcf" opacity="0.8"/>
<rect x="2030.9" y="1842.4" width="11.7" height="2.7" rx="0.0" fill="#b9bbbf" opacity="0.8"/>
<rect x="2030.9" y="1848.3" width="11.7" height="2.3" rx="0.0" fill="#c9cbcf" opacity="0.8"/>
<rect x="2054.2" y="1842.4" width="11.7" height="2.7" rx="0.0" fill="#b9bbbf" opacity="0.8"/>
<rect x="2054.2" y="1848.3" width="11.7" height="2.3" rx="0.0" fill="#c9cbcf" opacity="0.8"/>
<rect x="2053.2" y="1847.9" width="12.6" height="3.1" rx="0.0" fill="#a98ad0"/>
<rect x="1866.1" y="1905.0" width="18.5" height="3.9" rx="0.0" fill="#a7a9ad" opacity="0.75"/>
<rect x="1876.8" y="1914.7" width="5.8" height="5.8" rx="1.0" fill="#e9e9e9"/>
<rect x="1871.0" y="1916.6" width="4.9" height="1.6" rx="0.0" fill="#b0b2b6"/>
<rect x="1889.1" y="1905.0" width="18.5" height="3.9" rx="0.0" fill="#a7a9ad" opacity="0.75"/>
<rect x="1899.7" y="1914.7" width="5.8" height="5.8" rx="1.0" fill="#e9e9e9"/>
<rect x="1893.9" y="1916.6" width="4.9" height="1.6" rx="0.0" fill="#b0b2b6"/>
<rect x="1911.8" y="1905.0" width="18.5" height="3.9" rx="0.0" fill="#a7a9ad" opacity="0.75"/>
<rect x="1922.5" y="1914.7" width="5.8" height="5.8" rx="1.0" fill="#e9e9e9"/>
<rect x="1916.6" y="1916.6" width="4.9" height="1.6" rx="0.0" fill="#b0b2b6"/>
<rect x="1935.7" y="1905.0" width="18.5" height="3.9" rx="0.0" fill="#a7a9ad" opacity="0.75"/>
<rect x="1946.4" y="1914.7" width="5.8" height="5.8" rx="1.0" fill="#e9e9e9"/>
<rect x="1940.5" y="1916.6" width="4.9" height="1.6" rx="0.0" fill="#b0b2b6"/>
<rect x="1958.0" y="1905.0" width="18.5" height="3.9" rx="0.0" fill="#a7a9ad" opacity="0.75"/>
<rect x="1968.7" y="1914.7" width="5.8" height="5.8" rx="1.0" fill="#e9e9e9"/>
<rect x="1962.9" y="1916.6" width="4.9" height="1.6" rx="0.0" fill="#b0b2b6"/>
<rect x="1980.0" y="1905.0" width="18.5" height="3.9" rx="0.0" fill="#a7a9ad" opacity="0.75"/>
<rect x="1990.6" y="1914.7" width="5.8" height="5.8" rx="1.0" fill="#e9e9e9"/>
<rect x="1984.8" y="1916.6" width="4.9" height="1.6" rx="0.0" fill="#b0b2b6"/>
<rect x="2004.0" y="1905.0" width="18.5" height="3.9" rx="0.0" fill="#a7a9ad" opacity="0.75"/>
<rect x="2014.7" y="1914.7" width="5.8" height="5.8" rx="1.0" fill="#e9e9e9"/>
<rect x="2008.9" y="1916.6" width="4.9" height="1.6" rx="0.0" fill="#b0b2b6"/>
<rect x="2026.0" y="1905.0" width="18.5" height="3.9" rx="0.0" fill="#a7a9ad" opacity="0.75"/>
<rect x="2036.7" y="1914.7" width="5.8" height="5.8" rx="1.0" fill="#e9e9e9"/>
<rect x="2030.9" y="1916.6" width="4.9" height="1.6" rx="0.0" fill="#b0b2b6"/>
<rect x="2048.3" y="1905.0" width="18.5" height="3.9" rx="0.0" fill="#a7a9ad" opacity="0.75"/>
<rect x="2059.0" y="1914.7" width="5.8" height="5.8" rx="1.0" fill="#e9e9e9"/>
<rect x="2053.2" y="1916.6" width="4.9" height="1.6" rx="0.0" fill="#b0b2b6"/>
<rect x="1866.1" y="1909.6" width="17.1" height="1.6" rx="0.0" fill="#e0e0e0"/>
<circle cx="1872.6" cy="1939.9" r="8.2" fill="#8e9094"/>
<circle cx="1873.1" cy="1939.9" r="3.5" fill="#46484c"/>
<rect x="2056.1" y="1935.7" width="5.8" height="7.8" rx="1.0" fill="#686c72"/>
<ellipse cx="1892.0" cy="1995.9" rx="16.7" ry="14.0" fill="#f2f2f2"/>
<text x="1891.4" y="2000.7" font-size="13" font-weight="700" fill="#3a3c40" text-anchor="middle" textLength="20.4" lengthAdjust="spacingAndGlyphs">CCC</text>
<rect x="1908.5" y="1978.8" width="39.2" height="27.2" rx="1.0" fill="#b23440"/>
<rect x="1908.5" y="1978.8" width="7.8" height="27.2" rx="0.0" fill="#d9c9c9" opacity="0.8"/>
<circle cx="1932.8" cy="1992.4" r="9.3" fill="#c65660" stroke="#e4b9bd" stroke-width="1.2"/>
<rect x="1910.4" y="2006.4" width="37.3" height="3.5" rx="0.0" fill="#9fd0a8"/>
<rect x="1892.9" y="2012.0" width="59.2" height="2.7" rx="0.0" fill="#d9d2e2" opacity="0.7"/>
<rect x="1892.9" y="2018.8" width="58.3" height="2.7" rx="0.0" fill="#c9ccd2" opacity="0.7"/>
<rect x="1892.9" y="2024.6" width="48.6" height="2.7" rx="0.0" fill="#c9ccd2" opacity="0.7"/>
<rect x="1892.9" y="2030.5" width="48.6" height="2.7" rx="0.0" fill="#d5d7dc" opacity="0.7"/>
<polygon points="1884.2,2013.4 1889.1,2018.2 1884.2,2023.1 1879.3,2018.2" fill="#e4e4e4"/>
<rect x="1983.3" y="1994.9" width="84.5" height="53.8" rx="2.0" fill="#4a4d56"/>
<rect x="1986.2" y="1998.8" width="79.2" height="47.2" rx="2.0" fill="#23252c"/>
<rect x="1992.0" y="2028.9" width="68.0" height="15.5" rx="1.0" fill="#3c3f4a"/>
<rect x="2007.5" y="2025.4" width="36.9" height="5.1" rx="0.0" fill="#c9c9b0"/>
<rect x="2042.5" y="2003.7" width="15.5" height="7.8" rx="1.0" fill="#3a3d46"/>
<rect x="2004.6" y="2031.8" width="42.7" height="45.6" rx="1.0" fill="url(#ut3)"/>
<rect x="2009.5" y="2061.0" width="9.7" height="2.9" rx="0.0" fill="#d5d5d5"/>
<rect x="2009.5" y="2070.7" width="9.7" height="2.1" rx="0.0" fill="#e2e2e2"/>
</g>
<text x="1966.4" y="1828.7" font-size="10.4" font-weight="500" fill="#d9dadc" text-anchor="middle" textLength="70.9" lengthAdjust="spacingAndGlyphs" filter="url(#b05)">火灾报警控制器</text>

<!-- 64_arc.svg -->
<defs>
  <linearGradient id="ar1" x1="0" y1="0" x2="0" y2="1">
    <stop offset="0" stop-color="#3d413e"/>
    <stop offset="1" stop-color="#5b6059"/>
  </linearGradient>
  <linearGradient id="ar2" x1="0" y1="0" x2="1" y2="1">
    <stop offset="0" stop-color="#b9bbbd"/>
    <stop offset="0.5" stop-color="#cdcfd1"/>
    <stop offset="1" stop-color="#c0c2c4"/>
  </linearGradient>
</defs>
<g id="arc"><g filter="url(#b1)">
<rect x="2327.3" y="1812.3" width="225.3" height="24.5" rx="2.0" fill="#dc4c4d"/>
<rect x="2327.3" y="2043.9" width="225.3" height="21.8" rx="2.0" fill="#d23c3e"/>
<rect x="2323.3" y="1832.2" width="233.8" height="53.6" rx="2.0" fill="#e04545"/>
<rect x="2323.3" y="1999.4" width="233.8" height="47.8" rx="2.0" fill="#da4142"/>
<rect x="2327.3" y="1832.2" width="225.3" height="2.4" rx="0.0" fill="#c63a3c" opacity="0.6"/>
<rect x="2327.3" y="2045.7" width="225.3" height="2.2" rx="0.0" fill="#b83436" opacity="0.6"/>
<rect x="2316.4" y="1883.7" width="246.2" height="117.6" rx="3.0" fill="#e23d3e"/>
<rect x="2321.4" y="1889.5" width="161.0" height="106.8" rx="1.0" fill="#2a2c3a"/>
<rect x="2346.9" y="1900.0" width="129.7" height="70.5" rx="0.0" fill="#8a3434"/>
<rect x="2348.0" y="1901.1" width="127.6" height="68.3" rx="0.0" fill="url(#ar1)"/>
<rect x="2482.1" y="1890.4" width="73.6" height="106.7" rx="1.0" fill="url(#ar2)"/>
<circle cx="2363.0" cy="1849.5" r="8.4" fill="#14100f"/>
<circle cx="2515.9" cy="1849.5" r="8.4" fill="#14100f"/>
<circle cx="2416.3" cy="1849.5" r="7.3" fill="#100d0d"/>
<circle cx="2427.6" cy="1849.5" r="7.3" fill="#100d0d"/>
<circle cx="2439.0" cy="1849.5" r="7.3" fill="#100d0d"/>
<circle cx="2450.4" cy="1849.5" r="7.3" fill="#100d0d"/>
<circle cx="2461.7" cy="1849.5" r="7.3" fill="#100d0d"/>
<circle cx="2363.0" cy="2032.1" r="8.4" fill="#14100f"/>
<circle cx="2515.9" cy="2032.1" r="8.4" fill="#14100f"/>
<circle cx="2416.3" cy="2032.1" r="7.3" fill="#100d0d"/>
<circle cx="2427.6" cy="2032.1" r="7.3" fill="#100d0d"/>
<circle cx="2439.0" cy="2032.1" r="7.3" fill="#100d0d"/>
<circle cx="2450.4" cy="2032.1" r="7.3" fill="#100d0d"/>
<circle cx="2461.7" cy="2032.1" r="7.3" fill="#100d0d"/>
<rect x="2326.9" y="1860.4" width="13.1" height="16.4" rx="1.0" fill="#cfa64e"/>
<rect x="2323.6" y="1874.9" width="19.6" height="8.4" rx="1.0" fill="#b98d3c"/>
<rect x="2326.9" y="1863.1" width="13.1" height="1.5" rx="0.0" fill="#8f6a24" opacity="0.6"/>
<rect x="2326.9" y="1866.8" width="13.1" height="1.5" rx="0.0" fill="#8f6a24" opacity="0.6"/>
<rect x="2326.9" y="1870.4" width="13.1" height="1.5" rx="0.0" fill="#8f6a24" opacity="0.6"/>
<rect x="2511.3" y="1907.7" width="20.7" height="21.3" rx="3.0" fill="#2f7c4b"/>
<rect x="2490.2" y="1934.0" width="20.7" height="21.3" rx="3.0" fill="#2f7c4b"/>
<rect x="2511.0" y="1960.3" width="20.7" height="21.4" rx="3.0" fill="#2f7c4b"/>
<rect x="2532.6" y="1934.0" width="20.7" height="21.3" rx="3.0" fill="#c8333b"/>
<path d="M2521.7,1934.0 V1955.3 M2514.0,1944.5 H2529.9" stroke="#55575a" stroke-width="0.8" fill="none"/>
<circle cx="2493.5" cy="1973.4" r="2.6" fill="#e8e8e8" stroke="#333" stroke-width="1.2"/>
<path d="M2487.2,1970.5 v6 M2500.2,1970.5 v6" stroke="#444" stroke-width="1.4" fill="none"/>
<circle cx="2328.7" cy="1923.6" r="2.6" fill="#17181f"/>
<circle cx="2328.7" cy="1942.5" r="2.6" fill="#17181f"/>
<circle cx="2328.7" cy="1961.8" r="2.6" fill="#17181f"/>
</g>
<g filter="url(#b05)" font-weight="400">
<text x="2521.7" y="1913.1" font-size="4.5" fill="#e8f0ea" text-anchor="middle">▲</text>
<text x="2521.7" y="1924.4" font-size="7.6" fill="#e8f0ea" text-anchor="middle">测试</text>
<text x="2500.6" y="1947.3" font-size="7.6" fill="#e8f0ea" text-anchor="middle">设置</text>
<text x="2542.9" y="1943.1" font-size="7" fill="#f4dcdc" text-anchor="middle">确定</text>
<text x="2542.9" y="1951.3" font-size="7" fill="#f4dcdc" text-anchor="middle">复位</text>
<text x="2521.3" y="1970.9" font-size="7.6" fill="#e8f0ea" text-anchor="middle">消音</text>
<text x="2521.3" y="1978.9" font-size="4.5" fill="#e8f0ea" text-anchor="middle">▼</text>
<text x="2333.8" y="1926.2" font-size="6" fill="#d5d6da" text-anchor="start">运行</text>
<text x="2333.8" y="1945.1" font-size="6" fill="#d5d6da" text-anchor="start">通讯</text>
<text x="2333.8" y="1964.3" font-size="6" fill="#d5d6da" text-anchor="start">故障</text>
<text x="2410.8" y="1984.0" font-size="10.4" fill="#dcdcde" text-anchor="middle" textLength="76.7" lengthAdjust="spacing">故障电弧探测器</text>
<text x="2364.9" y="1827.7" font-size="11" fill="#c83c3e" text-anchor="middle" style="font-family:Liberation Serif,serif" font-weight="700">IN</text>
<text x="2514.4" y="1827.7" font-size="11" fill="#c83c3e" text-anchor="middle" style="font-family:Liberation Serif,serif" font-weight="700">IN</text>
<text x="2364.5" y="1871.3" font-size="11" fill="#c83c3e" text-anchor="middle" style="font-family:Liberation Serif,serif" font-weight="700">L</text>
<text x="2516.6" y="1871.3" font-size="11" fill="#c83c3e" text-anchor="middle" style="font-family:Liberation Serif,serif" font-weight="700">N</text>
<text x="2363.6" y="2015.8" font-size="11" fill="#c83c3e" text-anchor="middle" style="font-family:Liberation Serif,serif" font-weight="700">L</text>
<text x="2516.6" y="2015.8" font-size="11" fill="#c83c3e" text-anchor="middle" style="font-family:Liberation Serif,serif" font-weight="700">N</text>
<text x="2439.0" y="1866.2" font-size="8" fill="#cc3e40" text-anchor="middle" textLength="53.6" lengthAdjust="spacing">1 2 3 4 5</text>
</g></g>

<!-- 65_fmon.svg -->
<defs>
  <linearGradient id="fm1" x1="0" y1="0" x2="0" y2="1">
    <stop offset="0" stop-color="#eef3f4"/>
    <stop offset="0.85" stop-color="#e6edf0"/>
    <stop offset="1" stop-color="#d6dde0"/>
  </linearGradient>
  <radialGradient id="fm2" cx="0.4" cy="0.35" r="0.7">
    <stop offset="0" stop-color="#c9cdcc"/>
    <stop offset="0.5" stop-color="#5a5f60"/>
    <stop offset="1" stop-color="#2c3032"/>
  </radialGradient>
  <linearGradient id="fm3" x1="0" y1="0" x2="0" y2="1">
    <stop offset="0" stop-color="#c4d8e6"/>
    <stop offset="0.48" stop-color="#b4cce0"/>
    <stop offset="0.52" stop-color="#9fb9d0"/>
    <stop offset="1" stop-color="#b9d0e2"/>
  </linearGradient>
</defs>
<g id="fmon"><g filter="url(#b1)">
<rect x="2739.3" y="1817.1" width="263.9" height="35.0" rx="2.0" fill="#f1f3f1"/>
<rect x="2736.9" y="1999.6" width="266.3" height="39.9" rx="3.0" fill="#eef0ee"/>
<rect x="2859.9" y="2038.2" width="23.1" height="6.5" rx="4.0" fill="#d3423f"/>
<rect x="2728.7" y="1848.9" width="274.5" height="153.1" rx="4.0" fill="url(#fm1)"/>
<rect x="2745.0" y="1866.8" width="245.5" height="116.8" rx="4.0" fill="#dee8ee"/>
<rect x="2745.0" y="1980.0" width="245.5" height="3.6" rx="2.0" fill="#cfd9df" opacity="0.6"/>
<rect x="2753.7" y="1829.3" width="13.4" height="19.9" rx="2.0" fill="#c9a256"/>
<rect x="2757.2" y="1829.3" width="4.1" height="19.9" rx="0.0" fill="#ecd9a0" opacity="0.8"/>
<rect x="2948.3" y="1820.9" width="37.3" height="28.8" rx="2.0" fill="#1c1a12"/>
<rect x="2954.4" y="1826.9" width="10.6" height="19.5" rx="2.0" fill="#d9c223"/>
<rect x="2968.2" y="1826.9" width="10.6" height="19.5" rx="2.0" fill="#d2bb20"/>
<rect x="2956.8" y="1832.6" width="5.7" height="8.1" rx="1.0" fill="#4a4208"/>
<rect x="2970.6" y="1832.6" width="5.7" height="8.1" rx="1.0" fill="#4a4208"/>
<circle cx="2779.2" cy="1835.2" r="4.9" fill="url(#fm2)"/>
<circle cx="2791.5" cy="1835.2" r="4.9" fill="url(#fm2)"/>
<circle cx="2803.7" cy="1835.2" r="4.9" fill="url(#fm2)"/>
<circle cx="2815.9" cy="1835.2" r="4.9" fill="url(#fm2)"/>
<circle cx="2828.1" cy="1835.2" r="4.9" fill="url(#fm2)"/>
<circle cx="2840.3" cy="1835.2" r="4.9" fill="url(#fm2)"/>
<circle cx="2855.0" cy="1835.2" r="4.9" fill="url(#fm2)"/>
<circle cx="2873.7" cy="1835.2" r="4.9" fill="url(#fm2)"/>
<circle cx="2892.4" cy="1835.2" r="4.9" fill="url(#fm2)"/>
<circle cx="2911.2" cy="1835.2" r="4.9" fill="url(#fm2)"/>
<circle cx="2762.9" cy="2022.8" r="4.7" fill="url(#fm2)"/>
<circle cx="2775.6" cy="2022.8" r="4.7" fill="url(#fm2)"/>
<circle cx="2788.2" cy="2022.8" r="4.7" fill="url(#fm2)"/>
<circle cx="2800.7" cy="2022.8" r="4.7" fill="url(#fm2)"/>
<circle cx="2813.4" cy="2022.8" r="4.7" fill="url(#fm2)"/>
<circle cx="2826.0" cy="2022.8" r="4.7" fill="url(#fm2)"/>
<circle cx="2838.7" cy="2022.8" r="4.7" fill="url(#fm2)"/>
<circle cx="2850.9" cy="2022.8" r="4.7" fill="url(#fm2)"/>
<circle cx="2863.1" cy="2022.8" r="4.7" fill="url(#fm2)"/>
<circle cx="2875.8" cy="2022.8" r="4.7" fill="url(#fm2)"/>
<circle cx="2888.4" cy="2022.8" r="4.7" fill="url(#fm2)"/>
<circle cx="2900.9" cy="2022.8" r="4.7" fill="url(#fm2)"/>
<circle cx="2913.6" cy="2022.8" r="4.7" fill="url(#fm2)"/>
<circle cx="2926.7" cy="2022.8" r="4.7" fill="url(#fm2)"/>
<circle cx="2938.9" cy="2022.8" r="4.7" fill="url(#fm2)"/>
<circle cx="2951.9" cy="2022.8" r="4.7" fill="url(#fm2)"/>
<rect x="2780.4" y="1883.9" width="80.3" height="41.7" rx="1.0" fill="#39403a"/>
<rect x="2782.0" y="1885.5" width="77.2" height="38.6" rx="0.0" fill="#5e6c5a"/>
<rect x="2755.0" y="1918.1" width="0.8" height="31.0" rx="0.0" fill="#3a3e44"/>
<circle cx="2905.5" cy="1894.2" r="3.7" fill="#5b9b7c" stroke="#aab6bc" stroke-width="0.8"/>
<circle cx="2926.3" cy="1894.2" r="3.7" fill="#c6c794" stroke="#aab6bc" stroke-width="0.8"/>
<circle cx="2947.0" cy="1894.2" r="3.7" fill="#b06272" stroke="#aab6bc" stroke-width="0.8"/>
<circle cx="2967.7" cy="1894.2" r="3.7" fill="#6dab8a" stroke="#aab6bc" stroke-width="0.8"/>
<circle cx="2905.5" cy="1920.2" r="3.7" fill="#4b8b72" stroke="#aab6bc" stroke-width="0.8"/>
<circle cx="2926.3" cy="1920.2" r="3.7" fill="#c9c2b3" stroke="#aab6bc" stroke-width="0.8"/>
<circle cx="2947.0" cy="1920.2" r="3.7" fill="#4c927a" stroke="#aab6bc" stroke-width="0.8"/>
<circle cx="2967.7" cy="1920.2" r="3.7" fill="#d2d2ca" stroke="#aab6bc" stroke-width="0.8"/>
<rect x="2765.7" y="1952.3" width="20.7" height="22.3" rx="2.0" fill="url(#fm3)"/>
<rect x="2766.4" y="1962.9" width="19.4" height="0.7" rx="0.0" fill="#8ea8c0"/>
<rect x="2793.9" y="1952.3" width="20.7" height="22.3" rx="2.0" fill="url(#fm3)"/>
<rect x="2794.5" y="1962.9" width="19.4" height="0.7" rx="0.0" fill="#8ea8c0"/>
<rect x="2822.1" y="1952.3" width="20.7" height="22.3" rx="2.0" fill="url(#fm3)"/>
<rect x="2822.7" y="1962.9" width="19.4" height="0.7" rx="0.0" fill="#8ea8c0"/>
<rect x="2850.4" y="1952.3" width="20.7" height="22.3" rx="2.0" fill="url(#fm3)"/>
<rect x="2851.1" y="1962.9" width="19.4" height="0.7" rx="0.0" fill="#8ea8c0"/>
<circle cx="2936.4" cy="1963.7" r="15.0" fill="#f3f7f9"/>
<circle cx="2936.4" cy="1964.2" r="1.3" fill="#4a6a9a"/>
<path d="M2939.7,1960.6 A4.9,4.9 0 0 1 2939.7,1967.8 M2933.2,1960.6 A4.9,4.9 0 0 0 2933.2,1967.8 M2941.9,1958.2 A8.1,8.1 0 0 1 2941.9,1970.3 M2931.0,1958.2 A8.1,8.1 0 0 0 2931.0,1970.3 M2944.3,1955.5 A11.7,11.7 0 0 1 2944.3,1972.9 M2928.6,1955.5 A11.7,11.7 0 0 0 2928.6,1972.9" fill="none" stroke="#7a9cc8" stroke-width="0.9"/>
<path d="M2755.6,1894.5 L2762.5,1882.8 L2766.2,1882.8 L2767.0,1894.5 L2763.8,1894.5 z" fill="#d0343a"/>
<path d="M2753.7,1891.2 q6,-8 12,-2" fill="none" stroke="#3a62b0" stroke-width="1.6"/>
</g>
<g filter="url(#b05)">
<text x="2928.0" y="1882.4" font-size="6.9" fill="#34475a" text-anchor="middle" font-weight="500" textLength="87.3" lengthAdjust="spacingAndGlyphs">组合式电气火灾监控探测器</text>
<text x="2759.7" y="1898.6" font-size="3.6" fill="#2f55a4" text-anchor="middle" font-weight="700">航天常兴</text>
<text x="2905.5" y="1905.9" font-size="3.7" fill="#3a5a8a" text-anchor="middle" font-weight="500">电源</text>
<text x="2926.3" y="1905.9" font-size="3.7" fill="#3a5a8a" text-anchor="middle" font-weight="500">故障</text>
<text x="2947.0" y="1905.9" font-size="3.7" fill="#3a5a8a" text-anchor="middle" font-weight="500">报警</text>
<text x="2967.7" y="1905.9" font-size="3.7" fill="#3a5a8a" text-anchor="middle" font-weight="500">消音</text>
<text x="2905.5" y="1931.9" font-size="3.7" fill="#3a5a8a" text-anchor="middle" font-weight="500">运行</text>
<text x="2926.3" y="1931.9" font-size="3.7" fill="#3a5a8a" text-anchor="middle" font-weight="500">网络</text>
<text x="2947.0" y="1931.9" font-size="3.7" fill="#3a5a8a" text-anchor="middle" font-weight="500">检修</text>
<text x="2967.7" y="1931.9" font-size="3.7" fill="#3a5a8a" text-anchor="middle" font-weight="500">通信</text>
<text x="2776.0" y="1960.0" font-size="4.4" fill="#3a5a80" text-anchor="middle" font-weight="500">设置</text>
<text x="2776.0" y="1970.4" font-size="5.6" fill="#4a6a90" text-anchor="middle" style="font-family:DejaVu Sans,sans-serif">↶</text>
<text x="2804.2" y="1960.0" font-size="4.4" fill="#3a5a80" text-anchor="middle" font-weight="500">自检</text>
<text x="2804.2" y="1970.4" font-size="5.6" fill="#4a6a90" text-anchor="middle" style="font-family:DejaVu Sans,sans-serif">&lt;</text>
<text x="2832.3" y="1960.0" font-size="4.4" fill="#3a5a80" text-anchor="middle" font-weight="500">消音</text>
<text x="2832.3" y="1970.4" font-size="5.6" fill="#4a6a90" text-anchor="middle" style="font-family:DejaVu Sans,sans-serif">&gt;</text>
<text x="2860.7" y="1960.0" font-size="4.4" fill="#3a5a80" text-anchor="middle" font-weight="500">复位</text>
<text x="2860.7" y="1970.4" font-size="5.6" fill="#4a6a90" text-anchor="middle" style="font-family:DejaVu Sans,sans-serif">✓</text>
<text x="2773.5" y="1849.7" font-size="8.6" fill="#9a9c9a" text-anchor="start" style="font-family:Liberation Serif,serif" textLength="70.4" lengthAdjust="spacingAndGlyphs">IA* IA IB* IB IC* IC</text>
<text x="2854.7" y="1849.7" font-size="8.6" fill="#a4a6a4" text-anchor="middle" style="font-family:Liberation Serif,serif" textLength="8.5" lengthAdjust="spacingAndGlyphs">UA</text>
<text x="2873.4" y="1849.7" font-size="8.6" fill="#a4a6a4" text-anchor="middle" style="font-family:Liberation Serif,serif" textLength="8.5" lengthAdjust="spacingAndGlyphs">UB</text>
<text x="2892.0" y="1849.7" font-size="8.6" fill="#a4a6a4" text-anchor="middle" style="font-family:Liberation Serif,serif" textLength="8.5" lengthAdjust="spacingAndGlyphs">UC</text>
<text x="2910.0" y="1849.7" font-size="8.6" fill="#a4a6a4" text-anchor="middle" style="font-family:Liberation Serif,serif" textLength="8.5" lengthAdjust="spacingAndGlyphs">UN</text>
<text x="2758.9" y="2015.8" font-size="9.2" fill="#9c9e9c" text-anchor="start" style="font-family:Liberation Serif,serif" xml:space="preserve" textLength="199.6" lengthAdjust="spacingAndGlyphs">A  B PTC1 PTC2 PTC3 PTC4 IO IO* IN GND NO COM</text>
</g></g>

</svg>
</body>
</html>
